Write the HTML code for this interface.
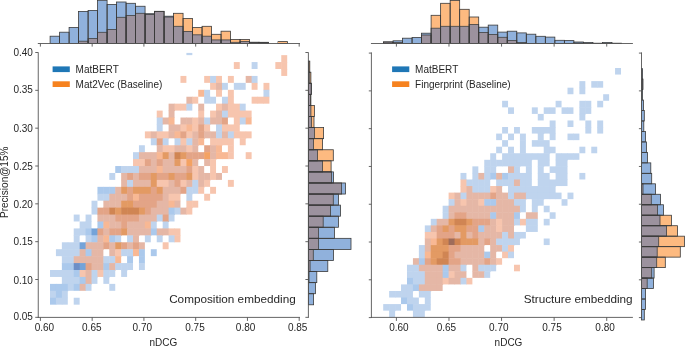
<!DOCTYPE html>
<html><head><meta charset="utf-8"><style>
html,body{margin:0;padding:0;background:#fff;}
body{width:685px;height:346px;overflow:hidden;}
svg{display:block;font-family:"Liberation Sans", sans-serif;will-change:transform;}
</style></head><body>
<svg width="685" height="346" viewBox="0 0 685 346" font-family='"Liberation Sans", sans-serif'>
<rect width="685" height="346" fill="#ffffff"/>
<rect x="186.39" y="52.9" width="5.93" height="2.24" fill="#bfd4ee"/>
<rect x="281.27" y="55.14" width="5.93" height="7.43" fill="#f7c5ae"/>
<rect x="233.83" y="62.07" width="5.93" height="6.93" fill="#f7c5ae"/>
<rect x="251.62" y="62.07" width="5.93" height="6.93" fill="#bfd4ee"/>
<rect x="275.34" y="62.07" width="6.43" height="6.93" fill="#f7c5ae"/>
<rect x="281.27" y="62.07" width="5.93" height="7.43" fill="#f7c5ae"/>
<rect x="281.27" y="69" width="5.93" height="6.93" fill="#f7c5ae"/>
<rect x="180.46" y="75.93" width="5.93" height="6.93" fill="#f7c5ae"/>
<rect x="204.18" y="75.93" width="6.43" height="6.93" fill="#f7c5ae"/>
<rect x="210.11" y="75.93" width="6.43" height="7.43" fill="#bfd4ee"/>
<rect x="216.04" y="75.93" width="5.93" height="7.43" fill="#f7c5ae"/>
<rect x="227.9" y="75.93" width="5.93" height="6.93" fill="#f7c5ae"/>
<rect x="245.69" y="75.93" width="6.43" height="6.93" fill="#e5b7a6"/>
<rect x="251.62" y="75.93" width="5.93" height="7.43" fill="#bfd4ee"/>
<rect x="210.11" y="82.87" width="6.43" height="6.93" fill="#f7c5ae"/>
<rect x="216.04" y="82.87" width="6.43" height="7.43" fill="#e5b7a6"/>
<rect x="221.97" y="82.87" width="5.93" height="6.93" fill="#bfd4ee"/>
<rect x="233.83" y="82.87" width="6.43" height="6.93" fill="#bfd4ee"/>
<rect x="239.76" y="82.87" width="5.93" height="6.93" fill="#bfd4ee"/>
<rect x="251.62" y="82.87" width="5.93" height="6.93" fill="#f7c5ae"/>
<rect x="263.48" y="82.87" width="5.93" height="7.43" fill="#f7c5ae"/>
<rect x="198.25" y="89.8" width="6.43" height="6.93" fill="#f8b894"/>
<rect x="204.18" y="89.8" width="5.93" height="7.43" fill="#bfd4ee"/>
<rect x="216.04" y="89.8" width="5.93" height="6.93" fill="#f7c5ae"/>
<rect x="227.9" y="89.8" width="5.93" height="7.43" fill="#f7c5ae"/>
<rect x="263.48" y="89.8" width="5.93" height="7.43" fill="#bfd4ee"/>
<rect x="186.39" y="96.73" width="6.43" height="7.43" fill="#e5b7a6"/>
<rect x="192.32" y="96.73" width="5.93" height="6.93" fill="#f7c5ae"/>
<rect x="204.18" y="96.73" width="6.43" height="6.93" fill="#bfd4ee"/>
<rect x="210.11" y="96.73" width="5.93" height="6.93" fill="#bfd4ee"/>
<rect x="221.97" y="96.73" width="6.43" height="7.43" fill="#bfd4ee"/>
<rect x="227.9" y="96.73" width="5.93" height="7.43" fill="#f7c5ae"/>
<rect x="251.62" y="96.73" width="6.43" height="6.93" fill="#f7c5ae"/>
<rect x="257.55" y="96.73" width="6.43" height="6.93" fill="#f7c5ae"/>
<rect x="263.48" y="96.73" width="5.93" height="6.93" fill="#f7c5ae"/>
<rect x="168.6" y="103.66" width="6.43" height="7.43" fill="#e5b7a6"/>
<rect x="174.53" y="103.66" width="6.43" height="6.93" fill="#f7c5ae"/>
<rect x="180.46" y="103.66" width="6.43" height="6.93" fill="#f7c5ae"/>
<rect x="186.39" y="103.66" width="5.93" height="6.93" fill="#bfd4ee"/>
<rect x="198.25" y="103.66" width="5.93" height="7.43" fill="#e5b7a6"/>
<rect x="216.04" y="103.66" width="6.43" height="7.43" fill="#f7c5ae"/>
<rect x="221.97" y="103.66" width="6.43" height="7.43" fill="#e5b7a6"/>
<rect x="227.9" y="103.66" width="6.43" height="7.43" fill="#f7c5ae"/>
<rect x="233.83" y="103.66" width="6.43" height="7.43" fill="#f7c5ae"/>
<rect x="239.76" y="103.66" width="5.93" height="7.43" fill="#bfd4ee"/>
<rect x="156.74" y="110.59" width="5.93" height="7.43" fill="#f7c5ae"/>
<rect x="168.6" y="110.59" width="5.93" height="7.43" fill="#e5b7a6"/>
<rect x="198.25" y="110.59" width="5.93" height="7.43" fill="#f7c5ae"/>
<rect x="210.11" y="110.59" width="6.43" height="7.43" fill="#f7c5ae"/>
<rect x="216.04" y="110.59" width="6.43" height="7.43" fill="#e5b7a6"/>
<rect x="221.97" y="110.59" width="6.43" height="7.43" fill="#bfd4ee"/>
<rect x="227.9" y="110.59" width="6.43" height="6.93" fill="#f7c5ae"/>
<rect x="233.83" y="110.59" width="6.43" height="7.43" fill="#f7c5ae"/>
<rect x="239.76" y="110.59" width="6.43" height="7.43" fill="#f7c5ae"/>
<rect x="245.69" y="110.59" width="5.93" height="7.43" fill="#f7c5ae"/>
<rect x="156.74" y="117.52" width="6.43" height="7.43" fill="#bfd4ee"/>
<rect x="162.67" y="117.52" width="6.43" height="6.93" fill="#e5b7a6"/>
<rect x="168.6" y="117.52" width="5.93" height="7.43" fill="#f8b894"/>
<rect x="180.46" y="117.52" width="6.43" height="7.43" fill="#e5b7a6"/>
<rect x="186.39" y="117.52" width="6.43" height="7.43" fill="#e5b7a6"/>
<rect x="192.32" y="117.52" width="6.43" height="7.43" fill="#f7c5ae"/>
<rect x="198.25" y="117.52" width="6.43" height="7.43" fill="#e5b7a6"/>
<rect x="204.18" y="117.52" width="6.43" height="7.43" fill="#bfd4ee"/>
<rect x="210.11" y="117.52" width="6.43" height="6.93" fill="#e5b7a6"/>
<rect x="216.04" y="117.52" width="6.43" height="7.43" fill="#e5b7a6"/>
<rect x="221.97" y="117.52" width="5.93" height="7.43" fill="#e3a487"/>
<rect x="233.83" y="117.52" width="6.43" height="7.43" fill="#f7c5ae"/>
<rect x="239.76" y="117.52" width="6.43" height="6.93" fill="#bfd4ee"/>
<rect x="245.69" y="117.52" width="5.93" height="6.93" fill="#f8b894"/>
<rect x="156.74" y="124.45" width="5.93" height="7.43" fill="#bfd4ee"/>
<rect x="168.6" y="124.45" width="6.43" height="7.43" fill="#e5b7a6"/>
<rect x="174.53" y="124.45" width="6.43" height="7.43" fill="#e5b7a6"/>
<rect x="180.46" y="124.45" width="6.43" height="7.43" fill="#f7c5ae"/>
<rect x="186.39" y="124.45" width="6.43" height="7.43" fill="#f8b894"/>
<rect x="192.32" y="124.45" width="6.43" height="7.43" fill="#f7c5ae"/>
<rect x="198.25" y="124.45" width="6.43" height="7.43" fill="#e3a487"/>
<rect x="204.18" y="124.45" width="5.93" height="7.43" fill="#f7c5ae"/>
<rect x="216.04" y="124.45" width="6.43" height="7.43" fill="#bfd4ee"/>
<rect x="221.97" y="124.45" width="6.43" height="7.43" fill="#f7c5ae"/>
<rect x="227.9" y="124.45" width="6.43" height="7.43" fill="#f7c5ae"/>
<rect x="233.83" y="124.45" width="5.93" height="7.43" fill="#f7c5ae"/>
<rect x="144.88" y="131.39" width="6.43" height="6.93" fill="#f7c5ae"/>
<rect x="150.81" y="131.39" width="6.43" height="7.43" fill="#e5b7a6"/>
<rect x="156.74" y="131.39" width="6.43" height="7.43" fill="#f7c5ae"/>
<rect x="162.67" y="131.39" width="6.43" height="7.43" fill="#f7c5ae"/>
<rect x="168.6" y="131.39" width="6.43" height="6.93" fill="#e5b7a6"/>
<rect x="174.53" y="131.39" width="6.43" height="7.43" fill="#f8b894"/>
<rect x="180.46" y="131.39" width="6.43" height="7.43" fill="#e3a487"/>
<rect x="186.39" y="131.39" width="6.43" height="7.43" fill="#f7c5ae"/>
<rect x="192.32" y="131.39" width="6.43" height="7.43" fill="#e5b7a6"/>
<rect x="198.25" y="131.39" width="6.43" height="7.43" fill="#e3a487"/>
<rect x="204.18" y="131.39" width="6.43" height="6.93" fill="#e5b7a6"/>
<rect x="210.11" y="131.39" width="6.43" height="7.43" fill="#e5b7a6"/>
<rect x="216.04" y="131.39" width="6.43" height="7.43" fill="#bfd4ee"/>
<rect x="221.97" y="131.39" width="6.43" height="7.43" fill="#e5b7a6"/>
<rect x="227.9" y="131.39" width="6.43" height="7.43" fill="#bfd4ee"/>
<rect x="233.83" y="131.39" width="6.43" height="6.93" fill="#f7c5ae"/>
<rect x="239.76" y="131.39" width="6.43" height="7.43" fill="#f7c5ae"/>
<rect x="245.69" y="131.39" width="5.93" height="6.93" fill="#f7c5ae"/>
<rect x="150.81" y="138.32" width="6.43" height="6.93" fill="#bfd4ee"/>
<rect x="156.74" y="138.32" width="6.43" height="7.43" fill="#e3a487"/>
<rect x="162.67" y="138.32" width="5.93" height="7.43" fill="#bfd4ee"/>
<rect x="174.53" y="138.32" width="6.43" height="7.43" fill="#bfd4ee"/>
<rect x="180.46" y="138.32" width="6.43" height="7.43" fill="#f7c5ae"/>
<rect x="186.39" y="138.32" width="6.43" height="7.43" fill="#bfd4ee"/>
<rect x="192.32" y="138.32" width="6.43" height="7.43" fill="#e5b7a6"/>
<rect x="198.25" y="138.32" width="5.93" height="6.93" fill="#f8b894"/>
<rect x="210.11" y="138.32" width="6.43" height="7.43" fill="#f7c5ae"/>
<rect x="216.04" y="138.32" width="6.43" height="7.43" fill="#f7c5ae"/>
<rect x="221.97" y="138.32" width="6.43" height="6.93" fill="#f7c5ae"/>
<rect x="227.9" y="138.32" width="5.93" height="7.43" fill="#f7c5ae"/>
<rect x="239.76" y="138.32" width="5.93" height="6.93" fill="#f7c5ae"/>
<rect x="138.95" y="145.25" width="5.93" height="7.43" fill="#bfd4ee"/>
<rect x="156.74" y="145.25" width="6.43" height="7.43" fill="#e5b7a6"/>
<rect x="162.67" y="145.25" width="6.43" height="7.43" fill="#f7c5ae"/>
<rect x="168.6" y="145.25" width="6.43" height="7.43" fill="#f7c5ae"/>
<rect x="174.53" y="145.25" width="6.43" height="7.43" fill="#e5b7a6"/>
<rect x="180.46" y="145.25" width="6.43" height="7.43" fill="#e5b7a6"/>
<rect x="186.39" y="145.25" width="6.43" height="7.43" fill="#f7c5ae"/>
<rect x="192.32" y="145.25" width="5.93" height="7.43" fill="#e5b7a6"/>
<rect x="204.18" y="145.25" width="6.43" height="7.43" fill="#e3a487"/>
<rect x="210.11" y="145.25" width="6.43" height="7.43" fill="#e5b7a6"/>
<rect x="216.04" y="145.25" width="5.93" height="7.43" fill="#f8b894"/>
<rect x="227.9" y="145.25" width="5.93" height="7.43" fill="#f7c5ae"/>
<rect x="133.02" y="152.18" width="6.43" height="7.43" fill="#bfd4ee"/>
<rect x="138.95" y="152.18" width="6.43" height="7.43" fill="#e5b7a6"/>
<rect x="144.88" y="152.18" width="6.43" height="7.43" fill="#e5b7a6"/>
<rect x="150.81" y="152.18" width="6.43" height="7.43" fill="#e5b7a6"/>
<rect x="156.74" y="152.18" width="6.43" height="7.43" fill="#f8b894"/>
<rect x="162.67" y="152.18" width="6.43" height="7.43" fill="#e39a63"/>
<rect x="168.6" y="152.18" width="6.43" height="7.43" fill="#e5b7a6"/>
<rect x="174.53" y="152.18" width="6.43" height="7.43" fill="#d08553"/>
<rect x="180.46" y="152.18" width="6.43" height="7.43" fill="#e39a63"/>
<rect x="186.39" y="152.18" width="6.43" height="7.43" fill="#e3a487"/>
<rect x="192.32" y="152.18" width="6.43" height="7.43" fill="#e3a487"/>
<rect x="198.25" y="152.18" width="6.43" height="6.93" fill="#e3a487"/>
<rect x="204.18" y="152.18" width="6.43" height="7.43" fill="#f4a263"/>
<rect x="210.11" y="152.18" width="6.43" height="7.43" fill="#e5b7a6"/>
<rect x="216.04" y="152.18" width="6.43" height="6.93" fill="#f8b894"/>
<rect x="221.97" y="152.18" width="6.43" height="6.93" fill="#f8b894"/>
<rect x="227.9" y="152.18" width="5.93" height="6.93" fill="#f7c5ae"/>
<rect x="245.69" y="152.18" width="5.93" height="6.93" fill="#f7c5ae"/>
<rect x="133.02" y="159.11" width="6.43" height="7.43" fill="#f7c5ae"/>
<rect x="138.95" y="159.11" width="6.43" height="7.43" fill="#f7c5ae"/>
<rect x="144.88" y="159.11" width="6.43" height="7.43" fill="#e3a487"/>
<rect x="150.81" y="159.11" width="6.43" height="7.43" fill="#e5b7a6"/>
<rect x="156.74" y="159.11" width="6.43" height="7.43" fill="#e3a487"/>
<rect x="162.67" y="159.11" width="6.43" height="7.43" fill="#e5b7a6"/>
<rect x="168.6" y="159.11" width="6.43" height="7.43" fill="#e5b7a6"/>
<rect x="174.53" y="159.11" width="6.43" height="7.43" fill="#e39a63"/>
<rect x="180.46" y="159.11" width="6.43" height="7.43" fill="#f7c5ae"/>
<rect x="186.39" y="159.11" width="6.43" height="7.43" fill="#f4a263"/>
<rect x="192.32" y="159.11" width="5.93" height="7.43" fill="#e5b7a6"/>
<rect x="204.18" y="159.11" width="6.43" height="6.93" fill="#e5b7a6"/>
<rect x="210.11" y="159.11" width="5.93" height="7.43" fill="#f7c5ae"/>
<rect x="115.23" y="166.04" width="6.43" height="6.93" fill="#abc9ec"/>
<rect x="121.16" y="166.04" width="6.43" height="7.43" fill="#bfd4ee"/>
<rect x="127.09" y="166.04" width="6.43" height="7.43" fill="#bfd4ee"/>
<rect x="133.02" y="166.04" width="6.43" height="7.43" fill="#bfd4ee"/>
<rect x="138.95" y="166.04" width="6.43" height="7.43" fill="#e5b7a6"/>
<rect x="144.88" y="166.04" width="6.43" height="7.43" fill="#e5b7a6"/>
<rect x="150.81" y="166.04" width="6.43" height="7.43" fill="#e5b7a6"/>
<rect x="156.74" y="166.04" width="6.43" height="7.43" fill="#f8b894"/>
<rect x="162.67" y="166.04" width="6.43" height="7.43" fill="#e5b7a6"/>
<rect x="168.6" y="166.04" width="6.43" height="7.43" fill="#e5b7a6"/>
<rect x="174.53" y="166.04" width="6.43" height="7.43" fill="#e5b7a6"/>
<rect x="180.46" y="166.04" width="6.43" height="7.43" fill="#e5b7a6"/>
<rect x="186.39" y="166.04" width="6.43" height="7.43" fill="#e3a487"/>
<rect x="192.32" y="166.04" width="6.43" height="7.43" fill="#f7c5ae"/>
<rect x="198.25" y="166.04" width="5.93" height="7.43" fill="#e5b7a6"/>
<rect x="210.11" y="166.04" width="5.93" height="7.43" fill="#f7c5ae"/>
<rect x="221.97" y="166.04" width="5.93" height="6.93" fill="#f7c5ae"/>
<rect x="109.3" y="172.97" width="5.93" height="6.93" fill="#bfd4ee"/>
<rect x="121.16" y="172.97" width="6.43" height="7.43" fill="#e5b7a6"/>
<rect x="127.09" y="172.97" width="6.43" height="7.43" fill="#e3a487"/>
<rect x="133.02" y="172.97" width="6.43" height="7.43" fill="#e5b7a6"/>
<rect x="138.95" y="172.97" width="6.43" height="7.43" fill="#e3a487"/>
<rect x="144.88" y="172.97" width="6.43" height="7.43" fill="#e3a487"/>
<rect x="150.81" y="172.97" width="6.43" height="7.43" fill="#e39a63"/>
<rect x="156.74" y="172.97" width="6.43" height="7.43" fill="#e3a487"/>
<rect x="162.67" y="172.97" width="6.43" height="7.43" fill="#e3a487"/>
<rect x="168.6" y="172.97" width="6.43" height="7.43" fill="#e39a63"/>
<rect x="174.53" y="172.97" width="6.43" height="7.43" fill="#e3a487"/>
<rect x="180.46" y="172.97" width="6.43" height="7.43" fill="#e3a487"/>
<rect x="186.39" y="172.97" width="6.43" height="7.43" fill="#e39a63"/>
<rect x="192.32" y="172.97" width="6.43" height="7.43" fill="#f7c5ae"/>
<rect x="198.25" y="172.97" width="6.43" height="7.43" fill="#e5b7a6"/>
<rect x="204.18" y="172.97" width="6.43" height="7.43" fill="#e5b7a6"/>
<rect x="210.11" y="172.97" width="6.43" height="6.93" fill="#f7c5ae"/>
<rect x="216.04" y="172.97" width="5.93" height="6.93" fill="#e5b7a6"/>
<rect x="121.16" y="179.91" width="6.43" height="7.43" fill="#e5b7a6"/>
<rect x="127.09" y="179.91" width="6.43" height="7.43" fill="#bfd4ee"/>
<rect x="133.02" y="179.91" width="6.43" height="7.43" fill="#e5b7a6"/>
<rect x="138.95" y="179.91" width="6.43" height="7.43" fill="#e5b7a6"/>
<rect x="144.88" y="179.91" width="6.43" height="7.43" fill="#e5b7a6"/>
<rect x="150.81" y="179.91" width="6.43" height="7.43" fill="#e39a63"/>
<rect x="156.74" y="179.91" width="6.43" height="7.43" fill="#f7c5ae"/>
<rect x="162.67" y="179.91" width="6.43" height="7.43" fill="#f7c5ae"/>
<rect x="168.6" y="179.91" width="6.43" height="7.43" fill="#e5b7a6"/>
<rect x="174.53" y="179.91" width="6.43" height="7.43" fill="#e3a487"/>
<rect x="180.46" y="179.91" width="6.43" height="7.43" fill="#f7c5ae"/>
<rect x="186.39" y="179.91" width="6.43" height="7.43" fill="#e5b7a6"/>
<rect x="192.32" y="179.91" width="6.43" height="7.43" fill="#bfd4ee"/>
<rect x="198.25" y="179.91" width="6.43" height="7.43" fill="#e5b7a6"/>
<rect x="204.18" y="179.91" width="5.93" height="6.93" fill="#f7c5ae"/>
<rect x="227.9" y="179.91" width="5.93" height="6.93" fill="#f7c5ae"/>
<rect x="97.44" y="186.84" width="6.43" height="7.43" fill="#abc9ec"/>
<rect x="103.37" y="186.84" width="6.43" height="7.43" fill="#abc9ec"/>
<rect x="109.3" y="186.84" width="6.43" height="7.43" fill="#abc9ec"/>
<rect x="115.23" y="186.84" width="6.43" height="7.43" fill="#e5b7a6"/>
<rect x="121.16" y="186.84" width="6.43" height="7.43" fill="#e39a63"/>
<rect x="127.09" y="186.84" width="6.43" height="7.43" fill="#e3a487"/>
<rect x="133.02" y="186.84" width="6.43" height="7.43" fill="#e39a63"/>
<rect x="138.95" y="186.84" width="6.43" height="7.43" fill="#e39a63"/>
<rect x="144.88" y="186.84" width="6.43" height="7.43" fill="#e39a63"/>
<rect x="150.81" y="186.84" width="6.43" height="7.43" fill="#e3a487"/>
<rect x="156.74" y="186.84" width="6.43" height="7.43" fill="#e39a63"/>
<rect x="162.67" y="186.84" width="6.43" height="7.43" fill="#e5b7a6"/>
<rect x="168.6" y="186.84" width="6.43" height="7.43" fill="#e5b7a6"/>
<rect x="174.53" y="186.84" width="6.43" height="7.43" fill="#e5b7a6"/>
<rect x="180.46" y="186.84" width="6.43" height="6.93" fill="#e3a487"/>
<rect x="186.39" y="186.84" width="6.43" height="7.43" fill="#bfd4ee"/>
<rect x="192.32" y="186.84" width="6.43" height="6.93" fill="#bfd4ee"/>
<rect x="198.25" y="186.84" width="5.93" height="6.93" fill="#f7c5ae"/>
<rect x="210.11" y="186.84" width="5.93" height="6.93" fill="#f7c5ae"/>
<rect x="97.44" y="193.77" width="6.43" height="6.93" fill="#bfd4ee"/>
<rect x="103.37" y="193.77" width="6.43" height="7.43" fill="#bfd4ee"/>
<rect x="109.3" y="193.77" width="6.43" height="7.43" fill="#e5b7a6"/>
<rect x="115.23" y="193.77" width="6.43" height="7.43" fill="#e5b7a6"/>
<rect x="121.16" y="193.77" width="6.43" height="7.43" fill="#e5b7a6"/>
<rect x="127.09" y="193.77" width="6.43" height="7.43" fill="#e3a487"/>
<rect x="133.02" y="193.77" width="6.43" height="7.43" fill="#f8b894"/>
<rect x="138.95" y="193.77" width="6.43" height="7.43" fill="#e3a487"/>
<rect x="144.88" y="193.77" width="6.43" height="7.43" fill="#e3a487"/>
<rect x="150.81" y="193.77" width="6.43" height="7.43" fill="#e3a487"/>
<rect x="156.74" y="193.77" width="6.43" height="7.43" fill="#e3a487"/>
<rect x="162.67" y="193.77" width="6.43" height="7.43" fill="#e5b7a6"/>
<rect x="168.6" y="193.77" width="6.43" height="7.43" fill="#f7c5ae"/>
<rect x="174.53" y="193.77" width="5.93" height="7.43" fill="#f7c5ae"/>
<rect x="186.39" y="193.77" width="5.93" height="7.43" fill="#bfd4ee"/>
<rect x="204.18" y="193.77" width="5.93" height="6.93" fill="#f7c5ae"/>
<rect x="91.51" y="200.7" width="5.93" height="7.43" fill="#bfd4ee"/>
<rect x="103.37" y="200.7" width="6.43" height="7.43" fill="#e5b7a6"/>
<rect x="109.3" y="200.7" width="6.43" height="7.43" fill="#e5b7a6"/>
<rect x="115.23" y="200.7" width="6.43" height="7.43" fill="#e5b7a6"/>
<rect x="121.16" y="200.7" width="6.43" height="7.43" fill="#e39a63"/>
<rect x="127.09" y="200.7" width="6.43" height="7.43" fill="#e39a63"/>
<rect x="133.02" y="200.7" width="6.43" height="7.43" fill="#e3a487"/>
<rect x="138.95" y="200.7" width="6.43" height="7.43" fill="#e3a487"/>
<rect x="144.88" y="200.7" width="6.43" height="7.43" fill="#e3a487"/>
<rect x="150.81" y="200.7" width="6.43" height="7.43" fill="#e3a487"/>
<rect x="156.74" y="200.7" width="6.43" height="7.43" fill="#e5b7a6"/>
<rect x="162.67" y="200.7" width="6.43" height="7.43" fill="#e5b7a6"/>
<rect x="168.6" y="200.7" width="6.43" height="7.43" fill="#f8b894"/>
<rect x="174.53" y="200.7" width="5.93" height="7.43" fill="#e5b7a6"/>
<rect x="186.39" y="200.7" width="6.43" height="7.43" fill="#f7c5ae"/>
<rect x="192.32" y="200.7" width="5.93" height="6.93" fill="#f7c5ae"/>
<rect x="91.51" y="207.63" width="6.43" height="6.93" fill="#bfd4ee"/>
<rect x="97.44" y="207.63" width="6.43" height="7.43" fill="#e3a487"/>
<rect x="103.37" y="207.63" width="6.43" height="7.43" fill="#e3a487"/>
<rect x="109.3" y="207.63" width="6.43" height="7.43" fill="#d08553"/>
<rect x="115.23" y="207.63" width="6.43" height="7.43" fill="#e39a63"/>
<rect x="121.16" y="207.63" width="6.43" height="7.43" fill="#d08553"/>
<rect x="127.09" y="207.63" width="6.43" height="7.43" fill="#d08553"/>
<rect x="133.02" y="207.63" width="6.43" height="7.43" fill="#d08553"/>
<rect x="138.95" y="207.63" width="6.43" height="7.43" fill="#e39a63"/>
<rect x="144.88" y="207.63" width="6.43" height="7.43" fill="#e3a487"/>
<rect x="150.81" y="207.63" width="6.43" height="7.43" fill="#e5b7a6"/>
<rect x="156.74" y="207.63" width="6.43" height="7.43" fill="#e5b7a6"/>
<rect x="162.67" y="207.63" width="6.43" height="7.43" fill="#e5b7a6"/>
<rect x="168.6" y="207.63" width="6.43" height="7.43" fill="#abc9ec"/>
<rect x="174.53" y="207.63" width="6.43" height="6.93" fill="#bfd4ee"/>
<rect x="180.46" y="207.63" width="6.43" height="6.93" fill="#e5b7a6"/>
<rect x="186.39" y="207.63" width="5.93" height="6.93" fill="#f7c5ae"/>
<rect x="73.72" y="214.56" width="5.93" height="6.93" fill="#bfd4ee"/>
<rect x="85.58" y="214.56" width="5.93" height="7.43" fill="#bfd4ee"/>
<rect x="97.44" y="214.56" width="6.43" height="7.43" fill="#e5b7a6"/>
<rect x="103.37" y="214.56" width="6.43" height="7.43" fill="#e5b7a6"/>
<rect x="109.3" y="214.56" width="6.43" height="7.43" fill="#e5b7a6"/>
<rect x="115.23" y="214.56" width="6.43" height="7.43" fill="#e3a487"/>
<rect x="121.16" y="214.56" width="6.43" height="7.43" fill="#e3a487"/>
<rect x="127.09" y="214.56" width="6.43" height="7.43" fill="#e3a487"/>
<rect x="133.02" y="214.56" width="6.43" height="7.43" fill="#e3a487"/>
<rect x="138.95" y="214.56" width="6.43" height="7.43" fill="#e5b7a6"/>
<rect x="144.88" y="214.56" width="6.43" height="7.43" fill="#e5b7a6"/>
<rect x="150.81" y="214.56" width="6.43" height="7.43" fill="#e5b7a6"/>
<rect x="156.74" y="214.56" width="6.43" height="6.93" fill="#bfd4ee"/>
<rect x="162.67" y="214.56" width="6.43" height="7.43" fill="#e3a487"/>
<rect x="168.6" y="214.56" width="5.93" height="6.93" fill="#bfd4ee"/>
<rect x="79.65" y="221.49" width="6.43" height="7.43" fill="#bfd4ee"/>
<rect x="85.58" y="221.49" width="5.93" height="7.43" fill="#bfd4ee"/>
<rect x="97.44" y="221.49" width="6.43" height="7.43" fill="#abc9ec"/>
<rect x="103.37" y="221.49" width="6.43" height="7.43" fill="#f8b894"/>
<rect x="109.3" y="221.49" width="6.43" height="7.43" fill="#e5b7a6"/>
<rect x="115.23" y="221.49" width="6.43" height="7.43" fill="#e5b7a6"/>
<rect x="121.16" y="221.49" width="6.43" height="7.43" fill="#e3a487"/>
<rect x="127.09" y="221.49" width="6.43" height="7.43" fill="#e5b7a6"/>
<rect x="133.02" y="221.49" width="6.43" height="7.43" fill="#e5b7a6"/>
<rect x="138.95" y="221.49" width="6.43" height="7.43" fill="#e5b7a6"/>
<rect x="144.88" y="221.49" width="6.43" height="7.43" fill="#f8b894"/>
<rect x="150.81" y="221.49" width="5.93" height="7.43" fill="#bfd4ee"/>
<rect x="162.67" y="221.49" width="5.93" height="7.43" fill="#bfd4ee"/>
<rect x="73.72" y="228.43" width="6.43" height="7.43" fill="#bfd4ee"/>
<rect x="79.65" y="228.43" width="6.43" height="6.93" fill="#bfd4ee"/>
<rect x="85.58" y="228.43" width="6.43" height="7.43" fill="#abc9ec"/>
<rect x="91.51" y="228.43" width="6.43" height="7.43" fill="#74a3d8"/>
<rect x="97.44" y="228.43" width="6.43" height="7.43" fill="#e3a487"/>
<rect x="103.37" y="228.43" width="6.43" height="7.43" fill="#e5b7a6"/>
<rect x="109.3" y="228.43" width="6.43" height="7.43" fill="#e3a487"/>
<rect x="115.23" y="228.43" width="6.43" height="7.43" fill="#e3a487"/>
<rect x="121.16" y="228.43" width="6.43" height="6.93" fill="#e39a63"/>
<rect x="127.09" y="228.43" width="6.43" height="7.43" fill="#e5b7a6"/>
<rect x="133.02" y="228.43" width="6.43" height="7.43" fill="#e5b7a6"/>
<rect x="138.95" y="228.43" width="6.43" height="6.93" fill="#e5b7a6"/>
<rect x="144.88" y="228.43" width="6.43" height="7.43" fill="#e5b7a6"/>
<rect x="150.81" y="228.43" width="6.43" height="6.93" fill="#abc9ec"/>
<rect x="156.74" y="228.43" width="6.43" height="7.43" fill="#e5b7a6"/>
<rect x="162.67" y="228.43" width="6.43" height="6.93" fill="#e5b7a6"/>
<rect x="168.6" y="228.43" width="6.43" height="7.43" fill="#f7c5ae"/>
<rect x="174.53" y="228.43" width="5.93" height="7.43" fill="#f7c5ae"/>
<rect x="73.72" y="235.36" width="5.93" height="7.43" fill="#bfd4ee"/>
<rect x="85.58" y="235.36" width="6.43" height="7.43" fill="#bfd4ee"/>
<rect x="91.51" y="235.36" width="6.43" height="7.43" fill="#abc9ec"/>
<rect x="97.44" y="235.36" width="6.43" height="7.43" fill="#e5b7a6"/>
<rect x="103.37" y="235.36" width="6.43" height="7.43" fill="#f8b894"/>
<rect x="109.3" y="235.36" width="6.43" height="7.43" fill="#abc9ec"/>
<rect x="115.23" y="235.36" width="5.93" height="7.43" fill="#bfd4ee"/>
<rect x="127.09" y="235.36" width="6.43" height="7.43" fill="#bfd4ee"/>
<rect x="133.02" y="235.36" width="5.93" height="7.43" fill="#e5b7a6"/>
<rect x="144.88" y="235.36" width="5.93" height="6.93" fill="#bfd4ee"/>
<rect x="156.74" y="235.36" width="5.93" height="6.93" fill="#bfd4ee"/>
<rect x="168.6" y="235.36" width="6.43" height="6.93" fill="#bfd4ee"/>
<rect x="174.53" y="235.36" width="5.93" height="6.93" fill="#f7c5ae"/>
<rect x="61.86" y="242.29" width="6.43" height="7.43" fill="#bfd4ee"/>
<rect x="67.79" y="242.29" width="6.43" height="7.43" fill="#bfd4ee"/>
<rect x="73.72" y="242.29" width="6.43" height="7.43" fill="#bfd4ee"/>
<rect x="79.65" y="242.29" width="6.43" height="7.43" fill="#74a3d8"/>
<rect x="85.58" y="242.29" width="6.43" height="7.43" fill="#e5b7a6"/>
<rect x="91.51" y="242.29" width="6.43" height="7.43" fill="#e5b7a6"/>
<rect x="97.44" y="242.29" width="6.43" height="7.43" fill="#e5b7a6"/>
<rect x="103.37" y="242.29" width="6.43" height="6.93" fill="#e3a487"/>
<rect x="109.3" y="242.29" width="6.43" height="7.43" fill="#e5b7a6"/>
<rect x="115.23" y="242.29" width="6.43" height="7.43" fill="#e39a63"/>
<rect x="121.16" y="242.29" width="6.43" height="7.43" fill="#e3a487"/>
<rect x="127.09" y="242.29" width="6.43" height="7.43" fill="#e5b7a6"/>
<rect x="133.02" y="242.29" width="6.43" height="7.43" fill="#e3a487"/>
<rect x="138.95" y="242.29" width="5.93" height="7.43" fill="#e5b7a6"/>
<rect x="162.67" y="242.29" width="5.93" height="6.93" fill="#f7c5ae"/>
<rect x="55.93" y="249.22" width="6.43" height="6.93" fill="#bfd4ee"/>
<rect x="61.86" y="249.22" width="6.43" height="7.43" fill="#bfd4ee"/>
<rect x="67.79" y="249.22" width="6.43" height="7.43" fill="#bfd4ee"/>
<rect x="73.72" y="249.22" width="6.43" height="7.43" fill="#bfd4ee"/>
<rect x="79.65" y="249.22" width="6.43" height="7.43" fill="#e5b7a6"/>
<rect x="85.58" y="249.22" width="6.43" height="7.43" fill="#abc9ec"/>
<rect x="91.51" y="249.22" width="6.43" height="7.43" fill="#e5b7a6"/>
<rect x="97.44" y="249.22" width="5.93" height="7.43" fill="#e5b7a6"/>
<rect x="109.3" y="249.22" width="6.43" height="7.43" fill="#e5b7a6"/>
<rect x="115.23" y="249.22" width="6.43" height="7.43" fill="#f7c5ae"/>
<rect x="121.16" y="249.22" width="6.43" height="6.93" fill="#bfd4ee"/>
<rect x="127.09" y="249.22" width="6.43" height="7.43" fill="#bfd4ee"/>
<rect x="133.02" y="249.22" width="6.43" height="6.93" fill="#f8b894"/>
<rect x="138.95" y="249.22" width="5.93" height="7.43" fill="#abc9ec"/>
<rect x="150.81" y="249.22" width="5.93" height="6.93" fill="#abc9ec"/>
<rect x="61.86" y="256.15" width="6.43" height="7.43" fill="#bfd4ee"/>
<rect x="67.79" y="256.15" width="6.43" height="7.43" fill="#bfd4ee"/>
<rect x="73.72" y="256.15" width="6.43" height="7.43" fill="#e5b7a6"/>
<rect x="79.65" y="256.15" width="6.43" height="7.43" fill="#e5b7a6"/>
<rect x="85.58" y="256.15" width="6.43" height="7.43" fill="#e5b7a6"/>
<rect x="91.51" y="256.15" width="6.43" height="7.43" fill="#e5b7a6"/>
<rect x="97.44" y="256.15" width="6.43" height="7.43" fill="#e5b7a6"/>
<rect x="103.37" y="256.15" width="6.43" height="7.43" fill="#bfd4ee"/>
<rect x="109.3" y="256.15" width="6.43" height="7.43" fill="#bfd4ee"/>
<rect x="115.23" y="256.15" width="5.93" height="7.43" fill="#f8b894"/>
<rect x="127.09" y="256.15" width="5.93" height="7.43" fill="#abc9ec"/>
<rect x="138.95" y="256.15" width="5.93" height="7.43" fill="#abc9ec"/>
<rect x="61.86" y="263.08" width="6.43" height="7.43" fill="#abc9ec"/>
<rect x="67.79" y="263.08" width="6.43" height="7.43" fill="#abc9ec"/>
<rect x="73.72" y="263.08" width="6.43" height="7.43" fill="#6d8ec6"/>
<rect x="79.65" y="263.08" width="6.43" height="7.43" fill="#74a3d8"/>
<rect x="85.58" y="263.08" width="6.43" height="7.43" fill="#e3a487"/>
<rect x="91.51" y="263.08" width="6.43" height="7.43" fill="#e5b7a6"/>
<rect x="97.44" y="263.08" width="6.43" height="7.43" fill="#e5b7a6"/>
<rect x="103.37" y="263.08" width="6.43" height="7.43" fill="#abc9ec"/>
<rect x="109.3" y="263.08" width="6.43" height="7.43" fill="#e5b7a6"/>
<rect x="115.23" y="263.08" width="6.43" height="6.93" fill="#bfd4ee"/>
<rect x="121.16" y="263.08" width="6.43" height="7.43" fill="#bfd4ee"/>
<rect x="127.09" y="263.08" width="5.93" height="6.93" fill="#bfd4ee"/>
<rect x="138.95" y="263.08" width="5.93" height="6.93" fill="#bfd4ee"/>
<rect x="50" y="270.01" width="6.43" height="6.93" fill="#bfd4ee"/>
<rect x="55.93" y="270.01" width="6.43" height="6.93" fill="#bfd4ee"/>
<rect x="61.86" y="270.01" width="6.43" height="7.43" fill="#bfd4ee"/>
<rect x="67.79" y="270.01" width="6.43" height="7.43" fill="#bfd4ee"/>
<rect x="73.72" y="270.01" width="6.43" height="7.43" fill="#abc9ec"/>
<rect x="79.65" y="270.01" width="6.43" height="7.43" fill="#f7c5ae"/>
<rect x="85.58" y="270.01" width="6.43" height="7.43" fill="#e5b7a6"/>
<rect x="91.51" y="270.01" width="6.43" height="7.43" fill="#bfd4ee"/>
<rect x="97.44" y="270.01" width="6.43" height="6.93" fill="#f7c5ae"/>
<rect x="103.37" y="270.01" width="6.43" height="7.43" fill="#bfd4ee"/>
<rect x="109.3" y="270.01" width="5.93" height="6.93" fill="#bfd4ee"/>
<rect x="121.16" y="270.01" width="5.93" height="6.93" fill="#bfd4ee"/>
<rect x="61.86" y="276.94" width="6.43" height="7.43" fill="#bfd4ee"/>
<rect x="67.79" y="276.94" width="6.43" height="7.43" fill="#bfd4ee"/>
<rect x="73.72" y="276.94" width="6.43" height="7.43" fill="#bfd4ee"/>
<rect x="79.65" y="276.94" width="6.43" height="7.43" fill="#abc9ec"/>
<rect x="85.58" y="276.94" width="6.43" height="7.43" fill="#e5b7a6"/>
<rect x="91.51" y="276.94" width="5.93" height="6.93" fill="#bfd4ee"/>
<rect x="103.37" y="276.94" width="5.93" height="6.93" fill="#bfd4ee"/>
<rect x="50" y="283.88" width="6.43" height="7.43" fill="#abc9ec"/>
<rect x="55.93" y="283.88" width="6.43" height="7.43" fill="#abc9ec"/>
<rect x="61.86" y="283.88" width="6.43" height="7.43" fill="#abc9ec"/>
<rect x="67.79" y="283.88" width="6.43" height="6.93" fill="#bfd4ee"/>
<rect x="73.72" y="283.88" width="6.43" height="6.93" fill="#abc9ec"/>
<rect x="79.65" y="283.88" width="6.43" height="6.93" fill="#e5b7a6"/>
<rect x="85.58" y="283.88" width="5.93" height="6.93" fill="#bfd4ee"/>
<rect x="109.3" y="283.88" width="5.93" height="6.93" fill="#bfd4ee"/>
<rect x="50" y="290.81" width="6.43" height="7.43" fill="#bfd4ee"/>
<rect x="55.93" y="290.81" width="6.43" height="7.43" fill="#abc9ec"/>
<rect x="61.86" y="290.81" width="5.93" height="7.43" fill="#bfd4ee"/>
<rect x="50" y="297.74" width="6.43" height="6.93" fill="#abc9ec"/>
<rect x="55.93" y="297.74" width="6.43" height="6.93" fill="#bfd4ee"/>
<rect x="61.86" y="297.74" width="5.93" height="6.93" fill="#bfd4ee"/>
<rect x="73.72" y="297.74" width="5.93" height="6.93" fill="#bfd4ee"/>
<line x1="38.25" y1="52.4" x2="38.25" y2="317.85" stroke="#555555" stroke-width="0.9"/>
<line x1="37.8" y1="317.4" x2="300" y2="317.4" stroke="#555555" stroke-width="0.9"/>
<line x1="35.25" y1="317.35" x2="38.25" y2="317.35" stroke="#555555" stroke-width="0.9"/>
<text x="32.95" y="319.7" font-size="10" text-anchor="end" fill="#262626">0.05</text>
<line x1="35.25" y1="279.51" x2="38.25" y2="279.51" stroke="#555555" stroke-width="0.9"/>
<text x="32.95" y="283.5" font-size="10" text-anchor="end" fill="#262626">0.10</text>
<line x1="35.25" y1="241.68" x2="38.25" y2="241.68" stroke="#555555" stroke-width="0.9"/>
<text x="32.95" y="245.15" font-size="10" text-anchor="end" fill="#262626">0.15</text>
<line x1="35.25" y1="203.84" x2="38.25" y2="203.84" stroke="#555555" stroke-width="0.9"/>
<text x="32.95" y="208.2" font-size="10" text-anchor="end" fill="#262626">0.20</text>
<line x1="35.25" y1="166.01" x2="38.25" y2="166.01" stroke="#555555" stroke-width="0.9"/>
<text x="32.95" y="169.7" font-size="10" text-anchor="end" fill="#262626">0.25</text>
<line x1="35.25" y1="128.17" x2="38.25" y2="128.17" stroke="#555555" stroke-width="0.9"/>
<text x="32.95" y="131.7" font-size="10" text-anchor="end" fill="#262626">0.30</text>
<line x1="35.25" y1="90.33" x2="38.25" y2="90.33" stroke="#555555" stroke-width="0.9"/>
<text x="32.95" y="92.55" font-size="10" text-anchor="end" fill="#262626">0.35</text>
<line x1="35.25" y1="52.5" x2="38.25" y2="52.5" stroke="#555555" stroke-width="0.9"/>
<text x="32.95" y="55.95" font-size="10" text-anchor="end" fill="#262626">0.40</text>
<line x1="40.4" y1="317.4" x2="40.4" y2="320.9" stroke="#555555" stroke-width="0.9"/>
<text x="44.4" y="330.5" font-size="10" text-anchor="middle" fill="#262626">0.60</text>
<line x1="92.16" y1="317.4" x2="92.16" y2="320.9" stroke="#555555" stroke-width="0.9"/>
<text x="91.8" y="330.5" font-size="10" text-anchor="middle" fill="#262626">0.65</text>
<line x1="143.92" y1="317.4" x2="143.92" y2="320.9" stroke="#555555" stroke-width="0.9"/>
<text x="142.3" y="330.5" font-size="10" text-anchor="middle" fill="#262626">0.70</text>
<line x1="195.68" y1="317.4" x2="195.68" y2="320.9" stroke="#555555" stroke-width="0.9"/>
<text x="195" y="330.5" font-size="10" text-anchor="middle" fill="#262626">0.75</text>
<line x1="247.44" y1="317.4" x2="247.44" y2="320.9" stroke="#555555" stroke-width="0.9"/>
<text x="245.6" y="330.5" font-size="10" text-anchor="middle" fill="#262626">0.80</text>
<line x1="299.2" y1="317.4" x2="299.2" y2="320.9" stroke="#555555" stroke-width="0.9"/>
<text x="297.7" y="330.5" font-size="10" text-anchor="middle" fill="#262626">0.85</text>
<rect x="50.1" y="36.2" width="9.5" height="7.3" fill="#90b1dc"/>
<rect x="59.6" y="32.2" width="9.5" height="11.3" fill="#90b1dc"/>
<rect x="69.09" y="27.4" width="9.5" height="16.1" fill="#90b1dc"/>
<rect x="78.59" y="41.2" width="9.5" height="2.3" fill="#9c929e"/>
<rect x="78.59" y="11.4" width="9.5" height="29.8" fill="#90b1dc"/>
<rect x="88.09" y="38.6" width="9.5" height="4.9" fill="#9c929e"/>
<rect x="88.09" y="10.4" width="9.5" height="28.2" fill="#90b1dc"/>
<rect x="97.59" y="32.3" width="9.5" height="11.2" fill="#9c929e"/>
<rect x="97.59" y="0.3" width="9.5" height="32" fill="#90b1dc"/>
<rect x="107.08" y="29.5" width="9.5" height="14" fill="#9c929e"/>
<rect x="107.08" y="4.4" width="9.5" height="25.1" fill="#90b1dc"/>
<rect x="116.58" y="17.3" width="9.5" height="26.2" fill="#9c929e"/>
<rect x="116.58" y="2" width="9.5" height="15.3" fill="#90b1dc"/>
<rect x="126.08" y="15.5" width="9.5" height="28" fill="#9c929e"/>
<rect x="126.08" y="3.3" width="9.5" height="12.2" fill="#90b1dc"/>
<rect x="135.57" y="13.3" width="9.5" height="30.2" fill="#9c929e"/>
<rect x="135.57" y="6.25" width="9.5" height="7.05" fill="#90b1dc"/>
<rect x="145.07" y="14.4" width="9.5" height="29.1" fill="#9c929e"/>
<rect x="145.07" y="13.7" width="9.5" height="0.7" fill="#90b1dc"/>
<rect x="154.57" y="11.4" width="9.5" height="32.1" fill="#9c929e"/>
<rect x="154.57" y="11.3" width="9.5" height="0.1" fill="#fdba80"/>
<rect x="164.06" y="17" width="9.5" height="26.5" fill="#9c929e"/>
<rect x="164.06" y="16.2" width="9.5" height="0.8" fill="#90b1dc"/>
<rect x="173.56" y="26.3" width="9.5" height="17.2" fill="#9c929e"/>
<rect x="173.56" y="13.3" width="9.5" height="13" fill="#fdba80"/>
<rect x="183.06" y="31.5" width="9.5" height="12" fill="#9c929e"/>
<rect x="183.06" y="18.4" width="9.5" height="13.1" fill="#fdba80"/>
<rect x="192.55" y="34.8" width="9.5" height="8.7" fill="#9c929e"/>
<rect x="192.55" y="27.5" width="9.5" height="7.3" fill="#fdba80"/>
<rect x="202.05" y="36.2" width="9.5" height="7.3" fill="#9c929e"/>
<rect x="202.05" y="26.3" width="9.5" height="9.9" fill="#fdba80"/>
<rect x="211.55" y="39.9" width="9.5" height="3.6" fill="#9c929e"/>
<rect x="211.55" y="34.3" width="9.5" height="5.6" fill="#fdba80"/>
<rect x="221.05" y="39.9" width="9.5" height="3.6" fill="#9c929e"/>
<rect x="221.05" y="31.2" width="9.5" height="8.7" fill="#fdba80"/>
<rect x="230.54" y="42.3" width="9.5" height="1.2" fill="#9c929e"/>
<rect x="230.54" y="39.5" width="9.5" height="2.8" fill="#fdba80"/>
<rect x="240.04" y="41.5" width="9.5" height="2" fill="#9c929e"/>
<rect x="240.04" y="39.5" width="9.5" height="2" fill="#fdba80"/>
<rect x="249.54" y="42.3" width="9.5" height="1.2" fill="#9c929e"/>
<rect x="259.03" y="42.6" width="9.5" height="0.9" fill="#9c929e"/>
<rect x="259.03" y="42.3" width="9.5" height="0.3" fill="#90b1dc"/>
<rect x="278.03" y="41.6" width="9.5" height="1.9" fill="#fdba80"/>
<rect x="50.1" y="36.2" width="9.5" height="7.3" fill="none" stroke="#3a3a3a" stroke-width="0.8"/>
<rect x="59.6" y="32.2" width="9.5" height="11.3" fill="none" stroke="#3a3a3a" stroke-width="0.8"/>
<rect x="69.09" y="27.4" width="9.5" height="16.1" fill="none" stroke="#3a3a3a" stroke-width="0.8"/>
<rect x="78.59" y="41.2" width="9.5" height="2.3" fill="none" stroke="#3a3a3a" stroke-width="0.8"/>
<rect x="78.59" y="11.4" width="9.5" height="32.1" fill="none" stroke="#3a3a3a" stroke-width="0.8"/>
<rect x="88.09" y="38.6" width="9.5" height="4.9" fill="none" stroke="#3a3a3a" stroke-width="0.8"/>
<rect x="88.09" y="10.4" width="9.5" height="33.1" fill="none" stroke="#3a3a3a" stroke-width="0.8"/>
<rect x="97.59" y="32.3" width="9.5" height="11.2" fill="none" stroke="#3a3a3a" stroke-width="0.8"/>
<rect x="97.59" y="0.3" width="9.5" height="43.2" fill="none" stroke="#3a3a3a" stroke-width="0.8"/>
<rect x="107.08" y="29.5" width="9.5" height="14" fill="none" stroke="#3a3a3a" stroke-width="0.8"/>
<rect x="107.08" y="4.4" width="9.5" height="39.1" fill="none" stroke="#3a3a3a" stroke-width="0.8"/>
<rect x="116.58" y="17.3" width="9.5" height="26.2" fill="none" stroke="#3a3a3a" stroke-width="0.8"/>
<rect x="116.58" y="2" width="9.5" height="41.5" fill="none" stroke="#3a3a3a" stroke-width="0.8"/>
<rect x="126.08" y="15.5" width="9.5" height="28" fill="none" stroke="#3a3a3a" stroke-width="0.8"/>
<rect x="126.08" y="3.3" width="9.5" height="40.2" fill="none" stroke="#3a3a3a" stroke-width="0.8"/>
<rect x="135.57" y="13.3" width="9.5" height="30.2" fill="none" stroke="#3a3a3a" stroke-width="0.8"/>
<rect x="135.57" y="6.25" width="9.5" height="37.25" fill="none" stroke="#3a3a3a" stroke-width="0.8"/>
<rect x="145.07" y="14.4" width="9.5" height="29.1" fill="none" stroke="#3a3a3a" stroke-width="0.8"/>
<rect x="145.07" y="13.7" width="9.5" height="29.8" fill="none" stroke="#3a3a3a" stroke-width="0.8"/>
<rect x="154.57" y="11.3" width="9.5" height="32.2" fill="none" stroke="#3a3a3a" stroke-width="0.8"/>
<rect x="154.57" y="11.4" width="9.5" height="32.1" fill="none" stroke="#3a3a3a" stroke-width="0.8"/>
<rect x="164.06" y="17" width="9.5" height="26.5" fill="none" stroke="#3a3a3a" stroke-width="0.8"/>
<rect x="164.06" y="16.2" width="9.5" height="27.3" fill="none" stroke="#3a3a3a" stroke-width="0.8"/>
<rect x="173.56" y="13.3" width="9.5" height="30.2" fill="none" stroke="#3a3a3a" stroke-width="0.8"/>
<rect x="173.56" y="26.3" width="9.5" height="17.2" fill="none" stroke="#3a3a3a" stroke-width="0.8"/>
<rect x="183.06" y="18.4" width="9.5" height="25.1" fill="none" stroke="#3a3a3a" stroke-width="0.8"/>
<rect x="183.06" y="31.5" width="9.5" height="12" fill="none" stroke="#3a3a3a" stroke-width="0.8"/>
<rect x="192.55" y="27.5" width="9.5" height="16" fill="none" stroke="#3a3a3a" stroke-width="0.8"/>
<rect x="192.55" y="34.8" width="9.5" height="8.7" fill="none" stroke="#3a3a3a" stroke-width="0.8"/>
<rect x="202.05" y="26.3" width="9.5" height="17.2" fill="none" stroke="#3a3a3a" stroke-width="0.8"/>
<rect x="202.05" y="36.2" width="9.5" height="7.3" fill="none" stroke="#3a3a3a" stroke-width="0.8"/>
<rect x="211.55" y="34.3" width="9.5" height="9.2" fill="none" stroke="#3a3a3a" stroke-width="0.8"/>
<rect x="211.55" y="39.9" width="9.5" height="3.6" fill="none" stroke="#3a3a3a" stroke-width="0.8"/>
<rect x="221.05" y="31.2" width="9.5" height="12.3" fill="none" stroke="#3a3a3a" stroke-width="0.8"/>
<rect x="221.05" y="39.9" width="9.5" height="3.6" fill="none" stroke="#3a3a3a" stroke-width="0.8"/>
<rect x="230.54" y="39.5" width="9.5" height="4" fill="none" stroke="#3a3a3a" stroke-width="0.8"/>
<rect x="230.54" y="42.3" width="9.5" height="1.2" fill="none" stroke="#3a3a3a" stroke-width="0.8"/>
<rect x="240.04" y="39.5" width="9.5" height="4" fill="none" stroke="#3a3a3a" stroke-width="0.8"/>
<rect x="240.04" y="41.5" width="9.5" height="2" fill="none" stroke="#3a3a3a" stroke-width="0.8"/>
<rect x="249.54" y="42.3" width="9.5" height="1.2" fill="none" stroke="#3a3a3a" stroke-width="0.8"/>
<rect x="249.54" y="42.3" width="9.5" height="1.2" fill="none" stroke="#3a3a3a" stroke-width="0.8"/>
<rect x="259.03" y="42.6" width="9.5" height="0.9" fill="none" stroke="#3a3a3a" stroke-width="0.8"/>
<rect x="259.03" y="42.3" width="9.5" height="1.2" fill="none" stroke="#3a3a3a" stroke-width="0.8"/>
<rect x="278.03" y="41.6" width="9.5" height="1.9" fill="none" stroke="#3a3a3a" stroke-width="0.8"/>
<line x1="37.8" y1="43.5" x2="300" y2="43.5" stroke="#555555" stroke-width="0.9"/>
<line x1="40.4" y1="43.5" x2="40.4" y2="46.6" stroke="#555555" stroke-width="0.9"/>
<line x1="92.16" y1="43.5" x2="92.16" y2="46.6" stroke="#555555" stroke-width="0.9"/>
<line x1="143.92" y1="43.5" x2="143.92" y2="46.6" stroke="#555555" stroke-width="0.9"/>
<line x1="195.68" y1="43.5" x2="195.68" y2="46.6" stroke="#555555" stroke-width="0.9"/>
<line x1="247.44" y1="43.5" x2="247.44" y2="46.6" stroke="#555555" stroke-width="0.9"/>
<line x1="299.2" y1="43.5" x2="299.2" y2="46.6" stroke="#555555" stroke-width="0.9"/>
<rect x="308.4" y="61.14" width="0.6" height="11.07" fill="#9c929e"/>
<rect x="309" y="61.14" width="0.8" height="11.07" fill="#fdba80"/>
<rect x="308.4" y="72.22" width="1.4" height="11.07" fill="#9c929e"/>
<rect x="309.8" y="72.22" width="1.1" height="11.07" fill="#fdba80"/>
<rect x="308.4" y="83.29" width="2.8" height="11.07" fill="#9c929e"/>
<rect x="311.2" y="83.29" width="0.2" height="11.07" fill="#90b1dc"/>
<rect x="308.4" y="94.37" width="2" height="11.07" fill="#9c929e"/>
<rect x="310.4" y="94.37" width="0.5" height="11.07" fill="#fdba80"/>
<rect x="308.4" y="105.44" width="2.5" height="11.07" fill="#9c929e"/>
<rect x="310.9" y="105.44" width="3.5" height="11.07" fill="#fdba80"/>
<rect x="308.4" y="116.52" width="3" height="11.07" fill="#9c929e"/>
<rect x="311.4" y="116.52" width="2.6" height="11.07" fill="#fdba80"/>
<rect x="308.4" y="127.59" width="6" height="11.07" fill="#9c929e"/>
<rect x="314.4" y="127.59" width="9.2" height="11.07" fill="#fdba80"/>
<rect x="308.4" y="138.67" width="5.2" height="11.07" fill="#9c929e"/>
<rect x="313.6" y="138.67" width="9" height="11.07" fill="#fdba80"/>
<rect x="308.4" y="149.75" width="9.1" height="11.07" fill="#9c929e"/>
<rect x="317.5" y="149.75" width="15.8" height="11.07" fill="#fdba80"/>
<rect x="308.4" y="160.82" width="14.2" height="11.07" fill="#9c929e"/>
<rect x="322.6" y="160.82" width="8.5" height="11.07" fill="#fdba80"/>
<rect x="308.4" y="171.89" width="23.2" height="11.07" fill="#9c929e"/>
<rect x="331.6" y="171.89" width="1.9" height="11.07" fill="#90b1dc"/>
<rect x="308.4" y="182.97" width="33.2" height="11.07" fill="#9c929e"/>
<rect x="341.6" y="182.97" width="3.8" height="11.07" fill="#90b1dc"/>
<rect x="308.4" y="194.04" width="24.9" height="11.07" fill="#9c929e"/>
<rect x="333.3" y="194.04" width="5.2" height="11.07" fill="#90b1dc"/>
<rect x="308.4" y="205.12" width="22.2" height="11.07" fill="#9c929e"/>
<rect x="330.6" y="205.12" width="9.9" height="11.07" fill="#90b1dc"/>
<rect x="308.4" y="216.19" width="14.8" height="11.07" fill="#9c929e"/>
<rect x="323.2" y="216.19" width="15.2" height="11.07" fill="#90b1dc"/>
<rect x="308.4" y="227.27" width="10.2" height="11.07" fill="#9c929e"/>
<rect x="318.6" y="227.27" width="15.8" height="11.07" fill="#90b1dc"/>
<rect x="308.4" y="238.34" width="10" height="11.07" fill="#9c929e"/>
<rect x="318.4" y="238.34" width="32.6" height="11.07" fill="#90b1dc"/>
<rect x="308.4" y="249.42" width="4.9" height="11.07" fill="#9c929e"/>
<rect x="313.3" y="249.42" width="20.2" height="11.07" fill="#90b1dc"/>
<rect x="308.4" y="260.5" width="1.7" height="11.07" fill="#9c929e"/>
<rect x="310.1" y="260.5" width="17.7" height="11.07" fill="#90b1dc"/>
<rect x="308.4" y="271.57" width="0.6" height="11.07" fill="#9c929e"/>
<rect x="309" y="271.57" width="7.8" height="11.07" fill="#90b1dc"/>
<rect x="308.4" y="282.64" width="7" height="11.07" fill="#90b1dc"/>
<rect x="308.4" y="293.72" width="5.2" height="11.07" fill="#90b1dc"/>
<rect x="308.4" y="61.14" width="1.4" height="11.07" fill="none" stroke="#3a3a3a" stroke-width="0.8"/>
<rect x="308.4" y="61.14" width="0.6" height="11.07" fill="none" stroke="#3a3a3a" stroke-width="0.8"/>
<rect x="308.4" y="72.22" width="2.5" height="11.07" fill="none" stroke="#3a3a3a" stroke-width="0.8"/>
<rect x="308.4" y="72.22" width="1.4" height="11.07" fill="none" stroke="#3a3a3a" stroke-width="0.8"/>
<rect x="308.4" y="83.29" width="2.8" height="11.07" fill="none" stroke="#3a3a3a" stroke-width="0.8"/>
<rect x="308.4" y="83.29" width="3" height="11.07" fill="none" stroke="#3a3a3a" stroke-width="0.8"/>
<rect x="308.4" y="94.37" width="2.5" height="11.07" fill="none" stroke="#3a3a3a" stroke-width="0.8"/>
<rect x="308.4" y="94.37" width="2" height="11.07" fill="none" stroke="#3a3a3a" stroke-width="0.8"/>
<rect x="308.4" y="105.44" width="6" height="11.07" fill="none" stroke="#3a3a3a" stroke-width="0.8"/>
<rect x="308.4" y="105.44" width="2.5" height="11.07" fill="none" stroke="#3a3a3a" stroke-width="0.8"/>
<rect x="308.4" y="116.52" width="5.6" height="11.07" fill="none" stroke="#3a3a3a" stroke-width="0.8"/>
<rect x="308.4" y="116.52" width="3" height="11.07" fill="none" stroke="#3a3a3a" stroke-width="0.8"/>
<rect x="308.4" y="127.59" width="15.2" height="11.07" fill="none" stroke="#3a3a3a" stroke-width="0.8"/>
<rect x="308.4" y="127.59" width="6" height="11.07" fill="none" stroke="#3a3a3a" stroke-width="0.8"/>
<rect x="308.4" y="138.67" width="14.2" height="11.07" fill="none" stroke="#3a3a3a" stroke-width="0.8"/>
<rect x="308.4" y="138.67" width="5.2" height="11.07" fill="none" stroke="#3a3a3a" stroke-width="0.8"/>
<rect x="308.4" y="149.75" width="24.9" height="11.07" fill="none" stroke="#3a3a3a" stroke-width="0.8"/>
<rect x="308.4" y="149.75" width="9.1" height="11.07" fill="none" stroke="#3a3a3a" stroke-width="0.8"/>
<rect x="308.4" y="160.82" width="22.7" height="11.07" fill="none" stroke="#3a3a3a" stroke-width="0.8"/>
<rect x="308.4" y="160.82" width="14.2" height="11.07" fill="none" stroke="#3a3a3a" stroke-width="0.8"/>
<rect x="308.4" y="171.89" width="23.2" height="11.07" fill="none" stroke="#3a3a3a" stroke-width="0.8"/>
<rect x="308.4" y="171.89" width="25.1" height="11.07" fill="none" stroke="#3a3a3a" stroke-width="0.8"/>
<rect x="308.4" y="182.97" width="33.2" height="11.07" fill="none" stroke="#3a3a3a" stroke-width="0.8"/>
<rect x="308.4" y="182.97" width="37" height="11.07" fill="none" stroke="#3a3a3a" stroke-width="0.8"/>
<rect x="308.4" y="194.04" width="24.9" height="11.07" fill="none" stroke="#3a3a3a" stroke-width="0.8"/>
<rect x="308.4" y="194.04" width="30.1" height="11.07" fill="none" stroke="#3a3a3a" stroke-width="0.8"/>
<rect x="308.4" y="205.12" width="22.2" height="11.07" fill="none" stroke="#3a3a3a" stroke-width="0.8"/>
<rect x="308.4" y="205.12" width="32.1" height="11.07" fill="none" stroke="#3a3a3a" stroke-width="0.8"/>
<rect x="308.4" y="216.19" width="14.8" height="11.07" fill="none" stroke="#3a3a3a" stroke-width="0.8"/>
<rect x="308.4" y="216.19" width="30" height="11.07" fill="none" stroke="#3a3a3a" stroke-width="0.8"/>
<rect x="308.4" y="227.27" width="10.2" height="11.07" fill="none" stroke="#3a3a3a" stroke-width="0.8"/>
<rect x="308.4" y="227.27" width="26" height="11.07" fill="none" stroke="#3a3a3a" stroke-width="0.8"/>
<rect x="308.4" y="238.34" width="10" height="11.07" fill="none" stroke="#3a3a3a" stroke-width="0.8"/>
<rect x="308.4" y="238.34" width="42.6" height="11.07" fill="none" stroke="#3a3a3a" stroke-width="0.8"/>
<rect x="308.4" y="249.42" width="4.9" height="11.07" fill="none" stroke="#3a3a3a" stroke-width="0.8"/>
<rect x="308.4" y="249.42" width="25.1" height="11.07" fill="none" stroke="#3a3a3a" stroke-width="0.8"/>
<rect x="308.4" y="260.5" width="1.7" height="11.07" fill="none" stroke="#3a3a3a" stroke-width="0.8"/>
<rect x="308.4" y="260.5" width="19.4" height="11.07" fill="none" stroke="#3a3a3a" stroke-width="0.8"/>
<rect x="308.4" y="271.57" width="0.6" height="11.07" fill="none" stroke="#3a3a3a" stroke-width="0.8"/>
<rect x="308.4" y="271.57" width="8.4" height="11.07" fill="none" stroke="#3a3a3a" stroke-width="0.8"/>
<rect x="308.4" y="282.64" width="7" height="11.07" fill="none" stroke="#3a3a3a" stroke-width="0.8"/>
<rect x="308.4" y="293.72" width="5.2" height="11.07" fill="none" stroke="#3a3a3a" stroke-width="0.8"/>
<line x1="308.4" y1="52.4" x2="308.4" y2="317.85" stroke="#555555" stroke-width="0.9"/>
<line x1="305.4" y1="317.35" x2="308.4" y2="317.35" stroke="#555555" stroke-width="0.9"/>
<line x1="305.4" y1="279.51" x2="308.4" y2="279.51" stroke="#555555" stroke-width="0.9"/>
<line x1="305.4" y1="241.68" x2="308.4" y2="241.68" stroke="#555555" stroke-width="0.9"/>
<line x1="305.4" y1="203.84" x2="308.4" y2="203.84" stroke="#555555" stroke-width="0.9"/>
<line x1="305.4" y1="166.01" x2="308.4" y2="166.01" stroke="#555555" stroke-width="0.9"/>
<line x1="305.4" y1="128.17" x2="308.4" y2="128.17" stroke="#555555" stroke-width="0.9"/>
<line x1="305.4" y1="90.33" x2="308.4" y2="90.33" stroke="#555555" stroke-width="0.9"/>
<line x1="305.4" y1="52.5" x2="308.4" y2="52.5" stroke="#555555" stroke-width="0.9"/>
<rect x="52.6" y="66.4" width="17.2" height="5.7" fill="#1f77b6"/>
<rect x="52.6" y="81.3" width="17.2" height="5.7" fill="#f6821f"/>
<text x="75.6" y="72.9" font-size="10" text-anchor="start" fill="#262626">MatBERT</text>
<text x="75.6" y="87.8" font-size="10" text-anchor="start" fill="#262626">Mat2Vec (Baseline)</text>
<text x="295.7" y="302.9" font-size="11.74" text-anchor="end" fill="#262626">Composition embedding</text>
<text x="163.4" y="346.3" font-size="10" text-anchor="middle" fill="#262626">nDCG</text>
<rect x="615.06" y="68" width="5.95" height="6.56" fill="#bfd4ee"/>
<rect x="579.38" y="81.12" width="5.95" height="7.06" fill="#bfd4ee"/>
<rect x="591.27" y="81.12" width="6.45" height="6.56" fill="#bfd4ee"/>
<rect x="597.22" y="81.12" width="5.95" height="6.56" fill="#bfd4ee"/>
<rect x="567.5" y="87.67" width="5.95" height="6.56" fill="#bfd4ee"/>
<rect x="579.38" y="87.67" width="5.95" height="6.56" fill="#bfd4ee"/>
<rect x="603.16" y="94.23" width="5.95" height="6.56" fill="#bfd4ee"/>
<rect x="502.1" y="100.79" width="5.95" height="6.56" fill="#bfd4ee"/>
<rect x="555.61" y="100.79" width="5.95" height="6.56" fill="#bfd4ee"/>
<rect x="579.38" y="100.79" width="6.45" height="7.06" fill="#bfd4ee"/>
<rect x="585.33" y="100.79" width="5.95" height="7.06" fill="#bfd4ee"/>
<rect x="597.22" y="100.79" width="5.95" height="6.56" fill="#bfd4ee"/>
<rect x="508.04" y="107.35" width="5.95" height="6.56" fill="#bfd4ee"/>
<rect x="531.83" y="107.35" width="5.95" height="6.56" fill="#bfd4ee"/>
<rect x="543.72" y="107.35" width="6.45" height="6.56" fill="#bfd4ee"/>
<rect x="549.66" y="107.35" width="5.95" height="6.56" fill="#bfd4ee"/>
<rect x="561.55" y="107.35" width="6.45" height="6.56" fill="#bfd4ee"/>
<rect x="567.5" y="107.35" width="5.95" height="6.56" fill="#bfd4ee"/>
<rect x="579.38" y="107.35" width="6.45" height="7.06" fill="#bfd4ee"/>
<rect x="585.33" y="107.35" width="5.95" height="6.56" fill="#bfd4ee"/>
<rect x="537.77" y="113.91" width="5.95" height="6.56" fill="#bfd4ee"/>
<rect x="579.38" y="113.91" width="5.95" height="6.56" fill="#bfd4ee"/>
<rect x="549.66" y="120.46" width="5.95" height="7.06" fill="#bfd4ee"/>
<rect x="567.5" y="120.46" width="5.95" height="6.56" fill="#bfd4ee"/>
<rect x="585.33" y="120.46" width="5.95" height="7.06" fill="#bfd4ee"/>
<rect x="597.22" y="120.46" width="5.95" height="7.06" fill="#bfd4ee"/>
<rect x="502.1" y="127.02" width="5.95" height="6.56" fill="#bfd4ee"/>
<rect x="513.99" y="127.02" width="5.95" height="6.56" fill="#bfd4ee"/>
<rect x="531.83" y="127.02" width="6.45" height="6.56" fill="#bfd4ee"/>
<rect x="537.77" y="127.02" width="6.45" height="7.06" fill="#bfd4ee"/>
<rect x="543.72" y="127.02" width="6.45" height="6.56" fill="#bfd4ee"/>
<rect x="549.66" y="127.02" width="5.95" height="7.06" fill="#bfd4ee"/>
<rect x="585.33" y="127.02" width="5.95" height="6.56" fill="#bfd4ee"/>
<rect x="597.22" y="127.02" width="5.95" height="6.56" fill="#bfd4ee"/>
<rect x="496.15" y="133.58" width="5.95" height="6.56" fill="#bfd4ee"/>
<rect x="508.04" y="133.58" width="5.95" height="6.56" fill="#bfd4ee"/>
<rect x="519.93" y="133.58" width="5.95" height="7.06" fill="#bfd4ee"/>
<rect x="537.77" y="133.58" width="5.95" height="7.06" fill="#bfd4ee"/>
<rect x="549.66" y="133.58" width="5.95" height="6.56" fill="#bfd4ee"/>
<rect x="567.5" y="133.58" width="6.45" height="6.56" fill="#bfd4ee"/>
<rect x="573.44" y="133.58" width="5.95" height="6.56" fill="#bfd4ee"/>
<rect x="502.1" y="140.14" width="5.95" height="6.56" fill="#bfd4ee"/>
<rect x="519.93" y="140.14" width="5.95" height="7.06" fill="#bfd4ee"/>
<rect x="531.83" y="140.14" width="6.45" height="6.56" fill="#bfd4ee"/>
<rect x="537.77" y="140.14" width="6.45" height="6.56" fill="#bfd4ee"/>
<rect x="543.72" y="140.14" width="5.95" height="7.06" fill="#bfd4ee"/>
<rect x="496.15" y="146.7" width="5.95" height="6.56" fill="#bfd4ee"/>
<rect x="508.04" y="146.7" width="5.95" height="7.06" fill="#bfd4ee"/>
<rect x="519.93" y="146.7" width="5.95" height="7.06" fill="#bfd4ee"/>
<rect x="543.72" y="146.7" width="6.45" height="7.06" fill="#bfd4ee"/>
<rect x="549.66" y="146.7" width="5.95" height="6.56" fill="#bfd4ee"/>
<rect x="579.38" y="146.7" width="5.95" height="6.56" fill="#bfd4ee"/>
<rect x="591.27" y="146.7" width="5.95" height="6.56" fill="#bfd4ee"/>
<rect x="490.21" y="153.25" width="5.95" height="7.06" fill="#bfd4ee"/>
<rect x="502.1" y="153.25" width="6.45" height="7.06" fill="#bfd4ee"/>
<rect x="508.04" y="153.25" width="6.45" height="7.06" fill="#bfd4ee"/>
<rect x="513.99" y="153.25" width="6.45" height="7.06" fill="#bfd4ee"/>
<rect x="519.93" y="153.25" width="6.45" height="7.06" fill="#bfd4ee"/>
<rect x="525.88" y="153.25" width="6.45" height="7.06" fill="#bfd4ee"/>
<rect x="531.83" y="153.25" width="6.45" height="6.56" fill="#bfd4ee"/>
<rect x="537.77" y="153.25" width="6.45" height="7.06" fill="#bfd4ee"/>
<rect x="543.72" y="153.25" width="5.95" height="7.06" fill="#bfd4ee"/>
<rect x="555.61" y="153.25" width="6.45" height="7.06" fill="#bfd4ee"/>
<rect x="561.55" y="153.25" width="6.45" height="7.06" fill="#bfd4ee"/>
<rect x="567.5" y="153.25" width="6.45" height="6.56" fill="#bfd4ee"/>
<rect x="573.44" y="153.25" width="5.95" height="6.56" fill="#bfd4ee"/>
<rect x="484.26" y="159.81" width="6.45" height="7.06" fill="#bfd4ee"/>
<rect x="490.21" y="159.81" width="6.45" height="7.06" fill="#bfd4ee"/>
<rect x="496.15" y="159.81" width="6.45" height="6.56" fill="#bfd4ee"/>
<rect x="502.1" y="159.81" width="6.45" height="6.56" fill="#bfd4ee"/>
<rect x="508.04" y="159.81" width="6.45" height="7.06" fill="#bfd4ee"/>
<rect x="513.99" y="159.81" width="6.45" height="7.06" fill="#bfd4ee"/>
<rect x="519.93" y="159.81" width="6.45" height="6.56" fill="#bfd4ee"/>
<rect x="525.88" y="159.81" width="5.95" height="7.06" fill="#bfd4ee"/>
<rect x="537.77" y="159.81" width="6.45" height="7.06" fill="#bfd4ee"/>
<rect x="543.72" y="159.81" width="5.95" height="6.56" fill="#bfd4ee"/>
<rect x="555.61" y="159.81" width="6.45" height="7.06" fill="#bfd4ee"/>
<rect x="561.55" y="159.81" width="5.95" height="7.06" fill="#bfd4ee"/>
<rect x="472.38" y="166.37" width="5.95" height="7.06" fill="#bfd4ee"/>
<rect x="484.26" y="166.37" width="6.45" height="7.06" fill="#bfd4ee"/>
<rect x="490.21" y="166.37" width="5.95" height="7.06" fill="#bfd4ee"/>
<rect x="508.04" y="166.37" width="6.45" height="7.06" fill="#e5b7a6"/>
<rect x="513.99" y="166.37" width="5.95" height="7.06" fill="#bfd4ee"/>
<rect x="525.88" y="166.37" width="5.95" height="7.06" fill="#bfd4ee"/>
<rect x="537.77" y="166.37" width="5.95" height="7.06" fill="#bfd4ee"/>
<rect x="549.66" y="166.37" width="6.45" height="6.56" fill="#bfd4ee"/>
<rect x="555.61" y="166.37" width="6.45" height="7.06" fill="#bfd4ee"/>
<rect x="561.55" y="166.37" width="5.95" height="7.06" fill="#bfd4ee"/>
<rect x="460.49" y="172.93" width="5.95" height="7.06" fill="#bfd4ee"/>
<rect x="472.38" y="172.93" width="6.45" height="7.06" fill="#bfd4ee"/>
<rect x="478.32" y="172.93" width="6.45" height="7.06" fill="#e5b7a6"/>
<rect x="484.26" y="172.93" width="6.45" height="7.06" fill="#bfd4ee"/>
<rect x="490.21" y="172.93" width="6.45" height="6.56" fill="#abc9ec"/>
<rect x="496.15" y="172.93" width="6.45" height="7.06" fill="#e5b7a6"/>
<rect x="502.1" y="172.93" width="6.45" height="7.06" fill="#abc9ec"/>
<rect x="508.04" y="172.93" width="6.45" height="7.06" fill="#bfd4ee"/>
<rect x="513.99" y="172.93" width="6.45" height="7.06" fill="#bfd4ee"/>
<rect x="519.93" y="172.93" width="6.45" height="7.06" fill="#bfd4ee"/>
<rect x="525.88" y="172.93" width="5.95" height="7.06" fill="#bfd4ee"/>
<rect x="537.77" y="172.93" width="6.45" height="7.06" fill="#bfd4ee"/>
<rect x="543.72" y="172.93" width="5.95" height="7.06" fill="#bfd4ee"/>
<rect x="555.61" y="172.93" width="6.45" height="7.06" fill="#bfd4ee"/>
<rect x="561.55" y="172.93" width="5.95" height="7.06" fill="#bfd4ee"/>
<rect x="579.38" y="172.93" width="5.95" height="6.56" fill="#bfd4ee"/>
<rect x="460.49" y="179.49" width="6.45" height="7.06" fill="#f7c5ae"/>
<rect x="466.43" y="179.49" width="6.45" height="7.06" fill="#bfd4ee"/>
<rect x="472.38" y="179.49" width="6.45" height="7.06" fill="#bfd4ee"/>
<rect x="478.32" y="179.49" width="6.45" height="7.06" fill="#bfd4ee"/>
<rect x="484.26" y="179.49" width="5.95" height="7.06" fill="#bfd4ee"/>
<rect x="496.15" y="179.49" width="6.45" height="7.06" fill="#bfd4ee"/>
<rect x="502.1" y="179.49" width="6.45" height="6.56" fill="#bfd4ee"/>
<rect x="508.04" y="179.49" width="6.45" height="7.06" fill="#bfd4ee"/>
<rect x="513.99" y="179.49" width="6.45" height="7.06" fill="#e5b7a6"/>
<rect x="519.93" y="179.49" width="6.45" height="7.06" fill="#bfd4ee"/>
<rect x="525.88" y="179.49" width="5.95" height="7.06" fill="#bfd4ee"/>
<rect x="537.77" y="179.49" width="6.45" height="7.06" fill="#bfd4ee"/>
<rect x="543.72" y="179.49" width="6.45" height="7.06" fill="#bfd4ee"/>
<rect x="549.66" y="179.49" width="6.45" height="7.06" fill="#bfd4ee"/>
<rect x="555.61" y="179.49" width="6.45" height="6.56" fill="#bfd4ee"/>
<rect x="561.55" y="179.49" width="5.95" height="6.56" fill="#bfd4ee"/>
<rect x="460.49" y="186.04" width="6.45" height="7.06" fill="#f7c5ae"/>
<rect x="466.43" y="186.04" width="6.45" height="7.06" fill="#e5b7a6"/>
<rect x="472.38" y="186.04" width="6.45" height="7.06" fill="#bfd4ee"/>
<rect x="478.32" y="186.04" width="6.45" height="7.06" fill="#bfd4ee"/>
<rect x="484.26" y="186.04" width="6.45" height="7.06" fill="#bfd4ee"/>
<rect x="490.21" y="186.04" width="6.45" height="7.06" fill="#f7c5ae"/>
<rect x="496.15" y="186.04" width="5.95" height="7.06" fill="#e5b7a6"/>
<rect x="508.04" y="186.04" width="6.45" height="7.06" fill="#bfd4ee"/>
<rect x="513.99" y="186.04" width="6.45" height="7.06" fill="#bfd4ee"/>
<rect x="519.93" y="186.04" width="6.45" height="7.06" fill="#bfd4ee"/>
<rect x="525.88" y="186.04" width="6.45" height="7.06" fill="#bfd4ee"/>
<rect x="531.83" y="186.04" width="6.45" height="7.06" fill="#bfd4ee"/>
<rect x="537.77" y="186.04" width="6.45" height="7.06" fill="#bfd4ee"/>
<rect x="543.72" y="186.04" width="6.45" height="7.06" fill="#bfd4ee"/>
<rect x="549.66" y="186.04" width="5.95" height="7.06" fill="#bfd4ee"/>
<rect x="448.6" y="192.6" width="6.45" height="7.06" fill="#f7c5ae"/>
<rect x="454.54" y="192.6" width="6.45" height="7.06" fill="#e5b7a6"/>
<rect x="460.49" y="192.6" width="6.45" height="7.06" fill="#bfd4ee"/>
<rect x="466.43" y="192.6" width="6.45" height="7.06" fill="#e5b7a6"/>
<rect x="472.38" y="192.6" width="6.45" height="7.06" fill="#e5b7a6"/>
<rect x="478.32" y="192.6" width="6.45" height="7.06" fill="#e5b7a6"/>
<rect x="484.26" y="192.6" width="6.45" height="7.06" fill="#e5b7a6"/>
<rect x="490.21" y="192.6" width="6.45" height="7.06" fill="#e3a487"/>
<rect x="496.15" y="192.6" width="6.45" height="7.06" fill="#e5b7a6"/>
<rect x="502.1" y="192.6" width="6.45" height="7.06" fill="#e5b7a6"/>
<rect x="508.04" y="192.6" width="6.45" height="7.06" fill="#bfd4ee"/>
<rect x="513.99" y="192.6" width="6.45" height="7.06" fill="#e5b7a6"/>
<rect x="519.93" y="192.6" width="6.45" height="7.06" fill="#e5b7a6"/>
<rect x="525.88" y="192.6" width="6.45" height="6.56" fill="#bfd4ee"/>
<rect x="531.83" y="192.6" width="6.45" height="7.06" fill="#bfd4ee"/>
<rect x="537.77" y="192.6" width="6.45" height="7.06" fill="#bfd4ee"/>
<rect x="543.72" y="192.6" width="6.45" height="6.56" fill="#bfd4ee"/>
<rect x="549.66" y="192.6" width="6.45" height="6.56" fill="#bfd4ee"/>
<rect x="555.61" y="192.6" width="5.95" height="6.56" fill="#bfd4ee"/>
<rect x="567.5" y="192.6" width="5.95" height="6.56" fill="#bfd4ee"/>
<rect x="448.6" y="199.16" width="6.45" height="7.06" fill="#bfd4ee"/>
<rect x="454.54" y="199.16" width="6.45" height="7.06" fill="#e5b7a6"/>
<rect x="460.49" y="199.16" width="6.45" height="7.06" fill="#f7c5ae"/>
<rect x="466.43" y="199.16" width="6.45" height="7.06" fill="#e5b7a6"/>
<rect x="472.38" y="199.16" width="6.45" height="7.06" fill="#e5b7a6"/>
<rect x="478.32" y="199.16" width="6.45" height="7.06" fill="#f7c5ae"/>
<rect x="484.26" y="199.16" width="6.45" height="7.06" fill="#abc9ec"/>
<rect x="490.21" y="199.16" width="6.45" height="7.06" fill="#abc9ec"/>
<rect x="496.15" y="199.16" width="6.45" height="7.06" fill="#e5b7a6"/>
<rect x="502.1" y="199.16" width="6.45" height="7.06" fill="#e5b7a6"/>
<rect x="508.04" y="199.16" width="6.45" height="7.06" fill="#e5b7a6"/>
<rect x="513.99" y="199.16" width="6.45" height="7.06" fill="#bfd4ee"/>
<rect x="519.93" y="199.16" width="5.95" height="7.06" fill="#bfd4ee"/>
<rect x="531.83" y="199.16" width="6.45" height="7.06" fill="#bfd4ee"/>
<rect x="537.77" y="199.16" width="5.95" height="6.56" fill="#bfd4ee"/>
<rect x="561.55" y="199.16" width="5.95" height="6.56" fill="#bfd4ee"/>
<rect x="442.65" y="205.72" width="6.45" height="7.06" fill="#bfd4ee"/>
<rect x="448.6" y="205.72" width="6.45" height="7.06" fill="#e5b7a6"/>
<rect x="454.54" y="205.72" width="6.45" height="7.06" fill="#e5b7a6"/>
<rect x="460.49" y="205.72" width="6.45" height="7.06" fill="#e5b7a6"/>
<rect x="466.43" y="205.72" width="6.45" height="7.06" fill="#e5b7a6"/>
<rect x="472.38" y="205.72" width="6.45" height="7.06" fill="#e5b7a6"/>
<rect x="478.32" y="205.72" width="6.45" height="7.06" fill="#e5b7a6"/>
<rect x="484.26" y="205.72" width="6.45" height="7.06" fill="#e5b7a6"/>
<rect x="490.21" y="205.72" width="6.45" height="7.06" fill="#e5b7a6"/>
<rect x="496.15" y="205.72" width="6.45" height="7.06" fill="#e5b7a6"/>
<rect x="502.1" y="205.72" width="6.45" height="7.06" fill="#e5b7a6"/>
<rect x="508.04" y="205.72" width="6.45" height="7.06" fill="#e5b7a6"/>
<rect x="513.99" y="205.72" width="6.45" height="7.06" fill="#e5b7a6"/>
<rect x="519.93" y="205.72" width="5.95" height="6.56" fill="#bfd4ee"/>
<rect x="531.83" y="205.72" width="5.95" height="7.06" fill="#bfd4ee"/>
<rect x="543.72" y="205.72" width="5.95" height="6.56" fill="#bfd4ee"/>
<rect x="442.65" y="212.28" width="6.45" height="7.06" fill="#bfd4ee"/>
<rect x="448.6" y="212.28" width="6.45" height="7.06" fill="#e5b7a6"/>
<rect x="454.54" y="212.28" width="6.45" height="7.06" fill="#e3a487"/>
<rect x="460.49" y="212.28" width="6.45" height="7.06" fill="#e3a487"/>
<rect x="466.43" y="212.28" width="6.45" height="7.06" fill="#e5b7a6"/>
<rect x="472.38" y="212.28" width="6.45" height="7.06" fill="#e5b7a6"/>
<rect x="478.32" y="212.28" width="6.45" height="7.06" fill="#e5b7a6"/>
<rect x="484.26" y="212.28" width="6.45" height="7.06" fill="#e5b7a6"/>
<rect x="490.21" y="212.28" width="6.45" height="7.06" fill="#abc9ec"/>
<rect x="496.15" y="212.28" width="6.45" height="7.06" fill="#e5b7a6"/>
<rect x="502.1" y="212.28" width="6.45" height="7.06" fill="#e5b7a6"/>
<rect x="508.04" y="212.28" width="6.45" height="7.06" fill="#e5b7a6"/>
<rect x="513.99" y="212.28" width="5.95" height="7.06" fill="#abc9ec"/>
<rect x="525.88" y="212.28" width="6.45" height="7.06" fill="#e5b7a6"/>
<rect x="531.83" y="212.28" width="5.95" height="7.06" fill="#e5b7a6"/>
<rect x="549.66" y="212.28" width="5.95" height="6.56" fill="#bfd4ee"/>
<rect x="430.76" y="218.83" width="6.45" height="7.06" fill="#bfd4ee"/>
<rect x="436.7" y="218.83" width="6.45" height="7.06" fill="#e5b7a6"/>
<rect x="442.65" y="218.83" width="6.45" height="7.06" fill="#e5b7a6"/>
<rect x="448.6" y="218.83" width="6.45" height="7.06" fill="#e39a63"/>
<rect x="454.54" y="218.83" width="6.45" height="7.06" fill="#d08553"/>
<rect x="460.49" y="218.83" width="6.45" height="7.06" fill="#d08553"/>
<rect x="466.43" y="218.83" width="6.45" height="7.06" fill="#e39a63"/>
<rect x="472.38" y="218.83" width="6.45" height="7.06" fill="#e3a487"/>
<rect x="478.32" y="218.83" width="6.45" height="7.06" fill="#e3a487"/>
<rect x="484.26" y="218.83" width="6.45" height="7.06" fill="#e3a487"/>
<rect x="490.21" y="218.83" width="6.45" height="7.06" fill="#e5b7a6"/>
<rect x="496.15" y="218.83" width="6.45" height="7.06" fill="#f7c5ae"/>
<rect x="502.1" y="218.83" width="6.45" height="7.06" fill="#e5b7a6"/>
<rect x="508.04" y="218.83" width="6.45" height="7.06" fill="#e5b7a6"/>
<rect x="513.99" y="218.83" width="6.45" height="6.56" fill="#bfd4ee"/>
<rect x="519.93" y="218.83" width="6.45" height="6.56" fill="#f7c5ae"/>
<rect x="525.88" y="218.83" width="6.45" height="7.06" fill="#bfd4ee"/>
<rect x="531.83" y="218.83" width="5.95" height="7.06" fill="#bfd4ee"/>
<rect x="543.72" y="218.83" width="5.95" height="6.56" fill="#bfd4ee"/>
<rect x="424.81" y="225.39" width="6.45" height="7.06" fill="#bfd4ee"/>
<rect x="430.76" y="225.39" width="6.45" height="7.06" fill="#e5b7a6"/>
<rect x="436.7" y="225.39" width="6.45" height="7.06" fill="#e3a487"/>
<rect x="442.65" y="225.39" width="6.45" height="7.06" fill="#e39a63"/>
<rect x="448.6" y="225.39" width="6.45" height="7.06" fill="#e3a487"/>
<rect x="454.54" y="225.39" width="6.45" height="7.06" fill="#e39a63"/>
<rect x="460.49" y="225.39" width="6.45" height="7.06" fill="#e39a63"/>
<rect x="466.43" y="225.39" width="6.45" height="7.06" fill="#e3a487"/>
<rect x="472.38" y="225.39" width="6.45" height="7.06" fill="#e3a487"/>
<rect x="478.32" y="225.39" width="6.45" height="7.06" fill="#abc9ec"/>
<rect x="484.26" y="225.39" width="6.45" height="7.06" fill="#e5b7a6"/>
<rect x="490.21" y="225.39" width="6.45" height="7.06" fill="#e5b7a6"/>
<rect x="496.15" y="225.39" width="6.45" height="7.06" fill="#f7c5ae"/>
<rect x="502.1" y="225.39" width="6.45" height="7.06" fill="#e5b7a6"/>
<rect x="508.04" y="225.39" width="5.95" height="7.06" fill="#e5b7a6"/>
<rect x="525.88" y="225.39" width="6.45" height="6.56" fill="#bfd4ee"/>
<rect x="531.83" y="225.39" width="5.95" height="6.56" fill="#bfd4ee"/>
<rect x="424.81" y="231.95" width="6.45" height="7.06" fill="#f7c5ae"/>
<rect x="430.76" y="231.95" width="6.45" height="7.06" fill="#f7c5ae"/>
<rect x="436.7" y="231.95" width="6.45" height="7.06" fill="#e3a487"/>
<rect x="442.65" y="231.95" width="6.45" height="7.06" fill="#e3a487"/>
<rect x="448.6" y="231.95" width="6.45" height="7.06" fill="#e3a487"/>
<rect x="454.54" y="231.95" width="6.45" height="7.06" fill="#e5b7a6"/>
<rect x="460.49" y="231.95" width="6.45" height="7.06" fill="#e39a63"/>
<rect x="466.43" y="231.95" width="6.45" height="7.06" fill="#e5b7a6"/>
<rect x="472.38" y="231.95" width="6.45" height="7.06" fill="#e3a487"/>
<rect x="478.32" y="231.95" width="6.45" height="7.06" fill="#e5b7a6"/>
<rect x="484.26" y="231.95" width="6.45" height="7.06" fill="#e5b7a6"/>
<rect x="490.21" y="231.95" width="6.45" height="7.06" fill="#e5b7a6"/>
<rect x="496.15" y="231.95" width="6.45" height="7.06" fill="#e5b7a6"/>
<rect x="502.1" y="231.95" width="6.45" height="7.06" fill="#bfd4ee"/>
<rect x="508.04" y="231.95" width="6.45" height="7.06" fill="#e5b7a6"/>
<rect x="513.99" y="231.95" width="6.45" height="7.06" fill="#bfd4ee"/>
<rect x="519.93" y="231.95" width="5.95" height="6.56" fill="#bfd4ee"/>
<rect x="424.81" y="238.51" width="6.45" height="7.06" fill="#e5b7a6"/>
<rect x="430.76" y="238.51" width="6.45" height="7.06" fill="#f8b894"/>
<rect x="436.7" y="238.51" width="6.45" height="7.06" fill="#e39a63"/>
<rect x="442.65" y="238.51" width="6.45" height="7.06" fill="#d08553"/>
<rect x="448.6" y="238.51" width="6.45" height="7.06" fill="#9e6c5a"/>
<rect x="454.54" y="238.51" width="6.45" height="7.06" fill="#d08553"/>
<rect x="460.49" y="238.51" width="6.45" height="7.06" fill="#e39a63"/>
<rect x="466.43" y="238.51" width="6.45" height="7.06" fill="#e39a63"/>
<rect x="472.38" y="238.51" width="6.45" height="7.06" fill="#e39a63"/>
<rect x="478.32" y="238.51" width="6.45" height="7.06" fill="#e5b7a6"/>
<rect x="484.26" y="238.51" width="6.45" height="6.56" fill="#e3a487"/>
<rect x="490.21" y="238.51" width="6.45" height="7.06" fill="#e5b7a6"/>
<rect x="496.15" y="238.51" width="6.45" height="7.06" fill="#bfd4ee"/>
<rect x="502.1" y="238.51" width="6.45" height="7.06" fill="#bfd4ee"/>
<rect x="508.04" y="238.51" width="6.45" height="7.06" fill="#bfd4ee"/>
<rect x="513.99" y="238.51" width="5.95" height="6.56" fill="#bfd4ee"/>
<rect x="543.72" y="238.51" width="5.95" height="6.56" fill="#bfd4ee"/>
<rect x="418.87" y="245.07" width="6.45" height="7.06" fill="#bfd4ee"/>
<rect x="424.81" y="245.07" width="6.45" height="7.06" fill="#e5b7a6"/>
<rect x="430.76" y="245.07" width="6.45" height="7.06" fill="#e39a63"/>
<rect x="436.7" y="245.07" width="6.45" height="7.06" fill="#e39a63"/>
<rect x="442.65" y="245.07" width="6.45" height="7.06" fill="#e39a63"/>
<rect x="448.6" y="245.07" width="6.45" height="7.06" fill="#e3a487"/>
<rect x="454.54" y="245.07" width="6.45" height="7.06" fill="#e3a487"/>
<rect x="460.49" y="245.07" width="6.45" height="7.06" fill="#e5b7a6"/>
<rect x="466.43" y="245.07" width="6.45" height="7.06" fill="#e5b7a6"/>
<rect x="472.38" y="245.07" width="6.45" height="7.06" fill="#e5b7a6"/>
<rect x="478.32" y="245.07" width="5.95" height="7.06" fill="#e5b7a6"/>
<rect x="490.21" y="245.07" width="6.45" height="7.06" fill="#e5b7a6"/>
<rect x="496.15" y="245.07" width="6.45" height="6.56" fill="#e5b7a6"/>
<rect x="502.1" y="245.07" width="6.45" height="7.06" fill="#bfd4ee"/>
<rect x="508.04" y="245.07" width="5.95" height="7.06" fill="#f7c5ae"/>
<rect x="418.87" y="251.62" width="6.45" height="7.06" fill="#bfd4ee"/>
<rect x="424.81" y="251.62" width="6.45" height="7.06" fill="#f8b894"/>
<rect x="430.76" y="251.62" width="6.45" height="7.06" fill="#e39a63"/>
<rect x="436.7" y="251.62" width="6.45" height="7.06" fill="#e39a63"/>
<rect x="442.65" y="251.62" width="6.45" height="7.06" fill="#d08553"/>
<rect x="448.6" y="251.62" width="6.45" height="7.06" fill="#e3a487"/>
<rect x="454.54" y="251.62" width="6.45" height="7.06" fill="#e5b7a6"/>
<rect x="460.49" y="251.62" width="6.45" height="7.06" fill="#e5b7a6"/>
<rect x="466.43" y="251.62" width="6.45" height="7.06" fill="#e5b7a6"/>
<rect x="472.38" y="251.62" width="6.45" height="7.06" fill="#e5b7a6"/>
<rect x="478.32" y="251.62" width="6.45" height="7.06" fill="#e5b7a6"/>
<rect x="484.26" y="251.62" width="6.45" height="7.06" fill="#abc9ec"/>
<rect x="490.21" y="251.62" width="5.95" height="7.06" fill="#e5b7a6"/>
<rect x="502.1" y="251.62" width="6.45" height="6.56" fill="#f7c5ae"/>
<rect x="508.04" y="251.62" width="5.95" height="6.56" fill="#bfd4ee"/>
<rect x="412.93" y="258.18" width="6.45" height="7.06" fill="#e5b7a6"/>
<rect x="418.87" y="258.18" width="6.45" height="7.06" fill="#abc9ec"/>
<rect x="424.81" y="258.18" width="6.45" height="7.06" fill="#e3a487"/>
<rect x="430.76" y="258.18" width="6.45" height="7.06" fill="#e39a63"/>
<rect x="436.7" y="258.18" width="6.45" height="7.06" fill="#d08553"/>
<rect x="442.65" y="258.18" width="6.45" height="7.06" fill="#d08553"/>
<rect x="448.6" y="258.18" width="6.45" height="7.06" fill="#e3a487"/>
<rect x="454.54" y="258.18" width="6.45" height="7.06" fill="#e3a487"/>
<rect x="460.49" y="258.18" width="6.45" height="7.06" fill="#e5b7a6"/>
<rect x="466.43" y="258.18" width="6.45" height="6.56" fill="#e5b7a6"/>
<rect x="472.38" y="258.18" width="6.45" height="7.06" fill="#e5b7a6"/>
<rect x="478.32" y="258.18" width="6.45" height="7.06" fill="#e5b7a6"/>
<rect x="484.26" y="258.18" width="6.45" height="7.06" fill="#e3a487"/>
<rect x="490.21" y="258.18" width="6.45" height="7.06" fill="#e5b7a6"/>
<rect x="496.15" y="258.18" width="5.95" height="6.56" fill="#f7c5ae"/>
<rect x="406.98" y="264.74" width="6.45" height="7.06" fill="#bfd4ee"/>
<rect x="412.93" y="264.74" width="6.45" height="7.06" fill="#bfd4ee"/>
<rect x="418.87" y="264.74" width="6.45" height="7.06" fill="#e5b7a6"/>
<rect x="424.81" y="264.74" width="6.45" height="7.06" fill="#e5b7a6"/>
<rect x="430.76" y="264.74" width="6.45" height="7.06" fill="#e5b7a6"/>
<rect x="436.7" y="264.74" width="6.45" height="7.06" fill="#e5b7a6"/>
<rect x="442.65" y="264.74" width="6.45" height="7.06" fill="#abc9ec"/>
<rect x="448.6" y="264.74" width="6.45" height="7.06" fill="#e5b7a6"/>
<rect x="454.54" y="264.74" width="6.45" height="7.06" fill="#e5b7a6"/>
<rect x="460.49" y="264.74" width="5.95" height="7.06" fill="#bfd4ee"/>
<rect x="472.38" y="264.74" width="6.45" height="7.06" fill="#e5b7a6"/>
<rect x="478.32" y="264.74" width="6.45" height="7.06" fill="#bfd4ee"/>
<rect x="484.26" y="264.74" width="6.45" height="7.06" fill="#bfd4ee"/>
<rect x="490.21" y="264.74" width="5.95" height="6.56" fill="#bfd4ee"/>
<rect x="513.99" y="264.74" width="5.95" height="6.56" fill="#f7c5ae"/>
<rect x="406.98" y="271.3" width="6.45" height="7.06" fill="#bfd4ee"/>
<rect x="412.93" y="271.3" width="6.45" height="7.06" fill="#bfd4ee"/>
<rect x="418.87" y="271.3" width="6.45" height="7.06" fill="#bfd4ee"/>
<rect x="424.81" y="271.3" width="6.45" height="7.06" fill="#e5b7a6"/>
<rect x="430.76" y="271.3" width="6.45" height="7.06" fill="#e5b7a6"/>
<rect x="436.7" y="271.3" width="6.45" height="7.06" fill="#e5b7a6"/>
<rect x="442.65" y="271.3" width="6.45" height="7.06" fill="#abc9ec"/>
<rect x="448.6" y="271.3" width="6.45" height="7.06" fill="#f7c5ae"/>
<rect x="454.54" y="271.3" width="6.45" height="7.06" fill="#e5b7a6"/>
<rect x="460.49" y="271.3" width="5.95" height="7.06" fill="#e5b7a6"/>
<rect x="472.38" y="271.3" width="6.45" height="6.56" fill="#e5b7a6"/>
<rect x="478.32" y="271.3" width="6.45" height="6.56" fill="#e5b7a6"/>
<rect x="484.26" y="271.3" width="5.95" height="6.56" fill="#bfd4ee"/>
<rect x="406.98" y="277.86" width="6.45" height="7.06" fill="#abc9ec"/>
<rect x="412.93" y="277.86" width="6.45" height="7.06" fill="#bfd4ee"/>
<rect x="418.87" y="277.86" width="6.45" height="7.06" fill="#bfd4ee"/>
<rect x="424.81" y="277.86" width="6.45" height="7.06" fill="#e5b7a6"/>
<rect x="430.76" y="277.86" width="6.45" height="7.06" fill="#e5b7a6"/>
<rect x="436.7" y="277.86" width="6.45" height="7.06" fill="#e5b7a6"/>
<rect x="442.65" y="277.86" width="6.45" height="6.56" fill="#f7c5ae"/>
<rect x="448.6" y="277.86" width="6.45" height="6.56" fill="#e5b7a6"/>
<rect x="454.54" y="277.86" width="6.45" height="6.56" fill="#e5b7a6"/>
<rect x="460.49" y="277.86" width="6.45" height="6.56" fill="#bfd4ee"/>
<rect x="466.43" y="277.86" width="5.95" height="6.56" fill="#f7c5ae"/>
<rect x="401.03" y="284.41" width="6.45" height="7.06" fill="#bfd4ee"/>
<rect x="406.98" y="284.41" width="6.45" height="7.06" fill="#bfd4ee"/>
<rect x="412.93" y="284.41" width="6.45" height="6.56" fill="#abc9ec"/>
<rect x="418.87" y="284.41" width="6.45" height="7.06" fill="#e5b7a6"/>
<rect x="424.81" y="284.41" width="6.45" height="7.06" fill="#e5b7a6"/>
<rect x="430.76" y="284.41" width="6.45" height="6.56" fill="#e5b7a6"/>
<rect x="436.7" y="284.41" width="5.95" height="6.56" fill="#e5b7a6"/>
<rect x="389.14" y="290.97" width="6.45" height="6.56" fill="#bfd4ee"/>
<rect x="395.09" y="290.97" width="6.45" height="6.56" fill="#bfd4ee"/>
<rect x="401.03" y="290.97" width="6.45" height="7.06" fill="#bfd4ee"/>
<rect x="406.98" y="290.97" width="5.95" height="7.06" fill="#bfd4ee"/>
<rect x="418.87" y="290.97" width="6.45" height="6.56" fill="#bfd4ee"/>
<rect x="424.81" y="290.97" width="5.95" height="7.06" fill="#bfd4ee"/>
<rect x="401.03" y="297.53" width="6.45" height="6.56" fill="#abc9ec"/>
<rect x="406.98" y="297.53" width="6.45" height="7.06" fill="#bfd4ee"/>
<rect x="412.93" y="297.53" width="5.95" height="7.06" fill="#bfd4ee"/>
<rect x="424.81" y="297.53" width="5.95" height="7.06" fill="#bfd4ee"/>
<rect x="383.2" y="304.09" width="6.45" height="6.56" fill="#bfd4ee"/>
<rect x="389.14" y="304.09" width="6.45" height="7.06" fill="#bfd4ee"/>
<rect x="395.09" y="304.09" width="5.95" height="6.56" fill="#bfd4ee"/>
<rect x="406.98" y="304.09" width="6.45" height="6.56" fill="#abc9ec"/>
<rect x="412.93" y="304.09" width="6.45" height="7.06" fill="#bfd4ee"/>
<rect x="418.87" y="304.09" width="6.45" height="7.06" fill="#bfd4ee"/>
<rect x="424.81" y="304.09" width="5.95" height="6.56" fill="#bfd4ee"/>
<rect x="389.14" y="310.65" width="5.95" height="6.56" fill="#bfd4ee"/>
<rect x="412.93" y="310.65" width="6.45" height="6.56" fill="#bfd4ee"/>
<rect x="418.87" y="310.65" width="5.95" height="6.56" fill="#bfd4ee"/>
<line x1="371.4" y1="52.4" x2="371.4" y2="317.85" stroke="#555555" stroke-width="0.9"/>
<line x1="370.95" y1="317.4" x2="632.9" y2="317.4" stroke="#555555" stroke-width="0.9"/>
<line x1="368.8" y1="317.6" x2="371.4" y2="317.6" stroke="#555555" stroke-width="0.9"/>
<line x1="368.8" y1="279.81" x2="371.4" y2="279.81" stroke="#555555" stroke-width="0.9"/>
<line x1="368.8" y1="242.03" x2="371.4" y2="242.03" stroke="#555555" stroke-width="0.9"/>
<line x1="368.8" y1="204.24" x2="371.4" y2="204.24" stroke="#555555" stroke-width="0.9"/>
<line x1="368.8" y1="166.46" x2="371.4" y2="166.46" stroke="#555555" stroke-width="0.9"/>
<line x1="368.8" y1="128.67" x2="371.4" y2="128.67" stroke="#555555" stroke-width="0.9"/>
<line x1="368.8" y1="90.88" x2="371.4" y2="90.88" stroke="#555555" stroke-width="0.9"/>
<line x1="368.8" y1="53.1" x2="371.4" y2="53.1" stroke="#555555" stroke-width="0.9"/>
<line x1="396.4" y1="317.4" x2="396.4" y2="320.9" stroke="#555555" stroke-width="0.9"/>
<text x="398.9" y="330.5" font-size="10" text-anchor="middle" fill="#262626">0.60</text>
<line x1="448.98" y1="317.4" x2="448.98" y2="320.9" stroke="#555555" stroke-width="0.9"/>
<text x="446.4" y="330.5" font-size="10" text-anchor="middle" fill="#262626">0.65</text>
<line x1="501.56" y1="317.4" x2="501.56" y2="320.9" stroke="#555555" stroke-width="0.9"/>
<text x="498.8" y="330.5" font-size="10" text-anchor="middle" fill="#262626">0.70</text>
<line x1="554.14" y1="317.4" x2="554.14" y2="320.9" stroke="#555555" stroke-width="0.9"/>
<text x="552" y="330.5" font-size="10" text-anchor="middle" fill="#262626">0.75</text>
<line x1="606.72" y1="317.4" x2="606.72" y2="320.9" stroke="#555555" stroke-width="0.9"/>
<text x="605.1" y="330.5" font-size="10" text-anchor="middle" fill="#262626">0.80</text>
<rect x="383.5" y="42" width="9.52" height="1.5" fill="#9c929e"/>
<rect x="383.5" y="41.9" width="9.52" height="0.1" fill="#90b1dc"/>
<rect x="393.02" y="42.6" width="9.52" height="0.9" fill="#9c929e"/>
<rect x="393.02" y="40.8" width="9.52" height="1.8" fill="#90b1dc"/>
<rect x="402.54" y="38.2" width="9.52" height="5.3" fill="#90b1dc"/>
<rect x="412.06" y="37.4" width="9.52" height="6.1" fill="#90b1dc"/>
<rect x="421.58" y="35" width="9.52" height="8.5" fill="#9c929e"/>
<rect x="421.58" y="33.2" width="9.52" height="1.8" fill="#90b1dc"/>
<rect x="431.1" y="28.2" width="9.52" height="15.3" fill="#9c929e"/>
<rect x="431.1" y="15.3" width="9.52" height="12.9" fill="#fdba80"/>
<rect x="440.62" y="26.3" width="9.52" height="17.2" fill="#9c929e"/>
<rect x="440.62" y="3.3" width="9.52" height="23" fill="#fdba80"/>
<rect x="450.14" y="26.3" width="9.52" height="17.2" fill="#9c929e"/>
<rect x="450.14" y="0.4" width="9.52" height="25.9" fill="#fdba80"/>
<rect x="459.66" y="26.3" width="9.52" height="17.2" fill="#9c929e"/>
<rect x="459.66" y="9.3" width="9.52" height="17" fill="#fdba80"/>
<rect x="469.18" y="24.5" width="9.52" height="19" fill="#9c929e"/>
<rect x="469.18" y="17" width="9.52" height="7.5" fill="#fdba80"/>
<rect x="478.7" y="32.4" width="9.52" height="11.1" fill="#9c929e"/>
<rect x="478.7" y="27.2" width="9.52" height="5.2" fill="#90b1dc"/>
<rect x="488.22" y="34.5" width="9.52" height="9" fill="#9c929e"/>
<rect x="488.22" y="25.1" width="9.52" height="9.4" fill="#90b1dc"/>
<rect x="497.74" y="37.3" width="9.52" height="6.2" fill="#9c929e"/>
<rect x="497.74" y="32.1" width="9.52" height="5.2" fill="#90b1dc"/>
<rect x="507.26" y="40.6" width="9.52" height="2.9" fill="#9c929e"/>
<rect x="507.26" y="31.2" width="9.52" height="9.4" fill="#90b1dc"/>
<rect x="516.78" y="42.6" width="9.52" height="0.9" fill="#9c929e"/>
<rect x="516.78" y="32.9" width="9.52" height="9.7" fill="#90b1dc"/>
<rect x="526.3" y="34.2" width="9.52" height="9.3" fill="#90b1dc"/>
<rect x="535.82" y="36.3" width="9.52" height="7.2" fill="#90b1dc"/>
<rect x="545.34" y="37.1" width="9.52" height="6.4" fill="#90b1dc"/>
<rect x="554.86" y="40.3" width="9.52" height="3.2" fill="#90b1dc"/>
<rect x="564.38" y="40.6" width="9.52" height="2.9" fill="#90b1dc"/>
<rect x="573.9" y="43" width="9.52" height="0.5" fill="#9c929e"/>
<rect x="573.9" y="42" width="9.52" height="1" fill="#90b1dc"/>
<rect x="583.42" y="42.5" width="9.52" height="1" fill="#90b1dc"/>
<rect x="592.94" y="43.2" width="9.52" height="0.3" fill="#90b1dc"/>
<rect x="602.46" y="42.5" width="9.52" height="1" fill="#90b1dc"/>
<rect x="611.98" y="43.2" width="9.52" height="0.3" fill="#90b1dc"/>
<rect x="383.5" y="42" width="9.52" height="1.5" fill="none" stroke="#3a3a3a" stroke-width="0.8"/>
<rect x="383.5" y="41.9" width="9.52" height="1.6" fill="none" stroke="#3a3a3a" stroke-width="0.8"/>
<rect x="393.02" y="42.6" width="9.52" height="0.9" fill="none" stroke="#3a3a3a" stroke-width="0.8"/>
<rect x="393.02" y="40.8" width="9.52" height="2.7" fill="none" stroke="#3a3a3a" stroke-width="0.8"/>
<rect x="402.54" y="38.2" width="9.52" height="5.3" fill="none" stroke="#3a3a3a" stroke-width="0.8"/>
<rect x="412.06" y="37.4" width="9.52" height="6.1" fill="none" stroke="#3a3a3a" stroke-width="0.8"/>
<rect x="421.58" y="35" width="9.52" height="8.5" fill="none" stroke="#3a3a3a" stroke-width="0.8"/>
<rect x="421.58" y="33.2" width="9.52" height="10.3" fill="none" stroke="#3a3a3a" stroke-width="0.8"/>
<rect x="431.1" y="15.3" width="9.52" height="28.2" fill="none" stroke="#3a3a3a" stroke-width="0.8"/>
<rect x="431.1" y="28.2" width="9.52" height="15.3" fill="none" stroke="#3a3a3a" stroke-width="0.8"/>
<rect x="440.62" y="3.3" width="9.52" height="40.2" fill="none" stroke="#3a3a3a" stroke-width="0.8"/>
<rect x="440.62" y="26.3" width="9.52" height="17.2" fill="none" stroke="#3a3a3a" stroke-width="0.8"/>
<rect x="450.14" y="0.4" width="9.52" height="43.1" fill="none" stroke="#3a3a3a" stroke-width="0.8"/>
<rect x="450.14" y="26.3" width="9.52" height="17.2" fill="none" stroke="#3a3a3a" stroke-width="0.8"/>
<rect x="459.66" y="9.3" width="9.52" height="34.2" fill="none" stroke="#3a3a3a" stroke-width="0.8"/>
<rect x="459.66" y="26.3" width="9.52" height="17.2" fill="none" stroke="#3a3a3a" stroke-width="0.8"/>
<rect x="469.18" y="17" width="9.52" height="26.5" fill="none" stroke="#3a3a3a" stroke-width="0.8"/>
<rect x="469.18" y="24.5" width="9.52" height="19" fill="none" stroke="#3a3a3a" stroke-width="0.8"/>
<rect x="478.7" y="32.4" width="9.52" height="11.1" fill="none" stroke="#3a3a3a" stroke-width="0.8"/>
<rect x="478.7" y="27.2" width="9.52" height="16.3" fill="none" stroke="#3a3a3a" stroke-width="0.8"/>
<rect x="488.22" y="34.5" width="9.52" height="9" fill="none" stroke="#3a3a3a" stroke-width="0.8"/>
<rect x="488.22" y="25.1" width="9.52" height="18.4" fill="none" stroke="#3a3a3a" stroke-width="0.8"/>
<rect x="497.74" y="37.3" width="9.52" height="6.2" fill="none" stroke="#3a3a3a" stroke-width="0.8"/>
<rect x="497.74" y="32.1" width="9.52" height="11.4" fill="none" stroke="#3a3a3a" stroke-width="0.8"/>
<rect x="507.26" y="40.6" width="9.52" height="2.9" fill="none" stroke="#3a3a3a" stroke-width="0.8"/>
<rect x="507.26" y="31.2" width="9.52" height="12.3" fill="none" stroke="#3a3a3a" stroke-width="0.8"/>
<rect x="516.78" y="42.6" width="9.52" height="0.9" fill="none" stroke="#3a3a3a" stroke-width="0.8"/>
<rect x="516.78" y="32.9" width="9.52" height="10.6" fill="none" stroke="#3a3a3a" stroke-width="0.8"/>
<rect x="526.3" y="34.2" width="9.52" height="9.3" fill="none" stroke="#3a3a3a" stroke-width="0.8"/>
<rect x="535.82" y="36.3" width="9.52" height="7.2" fill="none" stroke="#3a3a3a" stroke-width="0.8"/>
<rect x="545.34" y="37.1" width="9.52" height="6.4" fill="none" stroke="#3a3a3a" stroke-width="0.8"/>
<rect x="554.86" y="40.3" width="9.52" height="3.2" fill="none" stroke="#3a3a3a" stroke-width="0.8"/>
<rect x="564.38" y="40.6" width="9.52" height="2.9" fill="none" stroke="#3a3a3a" stroke-width="0.8"/>
<rect x="573.9" y="43" width="9.52" height="0.5" fill="none" stroke="#3a3a3a" stroke-width="0.8"/>
<rect x="573.9" y="42" width="9.52" height="1.5" fill="none" stroke="#3a3a3a" stroke-width="0.8"/>
<rect x="583.42" y="42.5" width="9.52" height="1" fill="none" stroke="#3a3a3a" stroke-width="0.8"/>
<rect x="592.94" y="43.2" width="9.52" height="0.3" fill="none" stroke="#3a3a3a" stroke-width="0.8"/>
<rect x="602.46" y="42.5" width="9.52" height="1" fill="none" stroke="#3a3a3a" stroke-width="0.8"/>
<rect x="611.98" y="43.2" width="9.52" height="0.3" fill="none" stroke="#3a3a3a" stroke-width="0.8"/>
<line x1="370.95" y1="43.5" x2="632.9" y2="43.5" stroke="#555555" stroke-width="0.9"/>
<line x1="396.4" y1="43.5" x2="396.4" y2="46.6" stroke="#555555" stroke-width="0.9"/>
<line x1="448.98" y1="43.5" x2="448.98" y2="46.6" stroke="#555555" stroke-width="0.9"/>
<line x1="501.56" y1="43.5" x2="501.56" y2="46.6" stroke="#555555" stroke-width="0.9"/>
<line x1="554.14" y1="43.5" x2="554.14" y2="46.6" stroke="#555555" stroke-width="0.9"/>
<line x1="606.72" y1="43.5" x2="606.72" y2="46.6" stroke="#555555" stroke-width="0.9"/>
<rect x="641.5" y="68.6" width="1" height="10.47" fill="#90b1dc"/>
<rect x="641.5" y="79.07" width="1" height="10.47" fill="#9c929e"/>
<rect x="642.5" y="79.07" width="0.5" height="10.47" fill="#90b1dc"/>
<rect x="641.5" y="89.55" width="1" height="10.47" fill="#90b1dc"/>
<rect x="641.5" y="100.02" width="2.1" height="10.47" fill="#90b1dc"/>
<rect x="641.5" y="110.5" width="2.8" height="10.47" fill="#90b1dc"/>
<rect x="641.5" y="120.97" width="2.3" height="10.47" fill="#90b1dc"/>
<rect x="641.5" y="131.44" width="4.1" height="10.47" fill="#90b1dc"/>
<rect x="641.5" y="141.92" width="5" height="10.47" fill="#90b1dc"/>
<rect x="641.5" y="152.39" width="6.1" height="10.47" fill="#90b1dc"/>
<rect x="641.5" y="162.87" width="9.3" height="10.47" fill="#90b1dc"/>
<rect x="641.5" y="173.34" width="10.2" height="10.47" fill="#90b1dc"/>
<rect x="641.5" y="183.81" width="1.5" height="10.47" fill="#9c929e"/>
<rect x="643" y="183.81" width="12.6" height="10.47" fill="#90b1dc"/>
<rect x="641.5" y="194.29" width="9.8" height="10.47" fill="#9c929e"/>
<rect x="651.3" y="194.29" width="9.3" height="10.47" fill="#90b1dc"/>
<rect x="641.5" y="204.76" width="16.1" height="10.47" fill="#9c929e"/>
<rect x="657.6" y="204.76" width="5.9" height="10.47" fill="#90b1dc"/>
<rect x="641.5" y="215.24" width="18.5" height="10.47" fill="#9c929e"/>
<rect x="660" y="215.24" width="11.4" height="10.47" fill="#fdba80"/>
<rect x="641.5" y="225.71" width="25.1" height="10.47" fill="#9c929e"/>
<rect x="666.6" y="225.71" width="11" height="10.47" fill="#fdba80"/>
<rect x="641.5" y="236.18" width="17.2" height="10.47" fill="#9c929e"/>
<rect x="658.7" y="236.18" width="25.7" height="10.47" fill="#fdba80"/>
<rect x="641.5" y="246.66" width="15.7" height="10.47" fill="#9c929e"/>
<rect x="657.2" y="246.66" width="23.1" height="10.47" fill="#fdba80"/>
<rect x="641.5" y="257.13" width="15.2" height="10.47" fill="#9c929e"/>
<rect x="656.7" y="257.13" width="8.6" height="10.47" fill="#fdba80"/>
<rect x="641.5" y="267.61" width="10.2" height="10.47" fill="#9c929e"/>
<rect x="651.7" y="267.61" width="2.4" height="10.47" fill="#90b1dc"/>
<rect x="641.5" y="278.08" width="5.7" height="10.47" fill="#9c929e"/>
<rect x="647.2" y="278.08" width="6.2" height="10.47" fill="#90b1dc"/>
<rect x="641.5" y="288.55" width="4.1" height="10.47" fill="#90b1dc"/>
<rect x="641.5" y="299.03" width="4.1" height="10.47" fill="#90b1dc"/>
<rect x="641.5" y="309.5" width="2.8" height="10.47" fill="#90b1dc"/>
<rect x="641.5" y="68.6" width="1" height="10.47" fill="none" stroke="#3a3a3a" stroke-width="0.8"/>
<rect x="641.5" y="79.07" width="1" height="10.47" fill="none" stroke="#3a3a3a" stroke-width="0.8"/>
<rect x="641.5" y="79.07" width="1.5" height="10.47" fill="none" stroke="#3a3a3a" stroke-width="0.8"/>
<rect x="641.5" y="89.55" width="1" height="10.47" fill="none" stroke="#3a3a3a" stroke-width="0.8"/>
<rect x="641.5" y="100.02" width="2.1" height="10.47" fill="none" stroke="#3a3a3a" stroke-width="0.8"/>
<rect x="641.5" y="110.5" width="2.8" height="10.47" fill="none" stroke="#3a3a3a" stroke-width="0.8"/>
<rect x="641.5" y="120.97" width="2.3" height="10.47" fill="none" stroke="#3a3a3a" stroke-width="0.8"/>
<rect x="641.5" y="131.44" width="4.1" height="10.47" fill="none" stroke="#3a3a3a" stroke-width="0.8"/>
<rect x="641.5" y="141.92" width="5" height="10.47" fill="none" stroke="#3a3a3a" stroke-width="0.8"/>
<rect x="641.5" y="152.39" width="6.1" height="10.47" fill="none" stroke="#3a3a3a" stroke-width="0.8"/>
<rect x="641.5" y="162.87" width="9.3" height="10.47" fill="none" stroke="#3a3a3a" stroke-width="0.8"/>
<rect x="641.5" y="173.34" width="10.2" height="10.47" fill="none" stroke="#3a3a3a" stroke-width="0.8"/>
<rect x="641.5" y="183.81" width="1.5" height="10.47" fill="none" stroke="#3a3a3a" stroke-width="0.8"/>
<rect x="641.5" y="183.81" width="14.1" height="10.47" fill="none" stroke="#3a3a3a" stroke-width="0.8"/>
<rect x="641.5" y="194.29" width="9.8" height="10.47" fill="none" stroke="#3a3a3a" stroke-width="0.8"/>
<rect x="641.5" y="194.29" width="19.1" height="10.47" fill="none" stroke="#3a3a3a" stroke-width="0.8"/>
<rect x="641.5" y="204.76" width="16.1" height="10.47" fill="none" stroke="#3a3a3a" stroke-width="0.8"/>
<rect x="641.5" y="204.76" width="22" height="10.47" fill="none" stroke="#3a3a3a" stroke-width="0.8"/>
<rect x="641.5" y="215.24" width="29.9" height="10.47" fill="none" stroke="#3a3a3a" stroke-width="0.8"/>
<rect x="641.5" y="215.24" width="18.5" height="10.47" fill="none" stroke="#3a3a3a" stroke-width="0.8"/>
<rect x="641.5" y="225.71" width="36.1" height="10.47" fill="none" stroke="#3a3a3a" stroke-width="0.8"/>
<rect x="641.5" y="225.71" width="25.1" height="10.47" fill="none" stroke="#3a3a3a" stroke-width="0.8"/>
<rect x="641.5" y="236.18" width="42.9" height="10.47" fill="none" stroke="#3a3a3a" stroke-width="0.8"/>
<rect x="641.5" y="236.18" width="17.2" height="10.47" fill="none" stroke="#3a3a3a" stroke-width="0.8"/>
<rect x="641.5" y="246.66" width="38.8" height="10.47" fill="none" stroke="#3a3a3a" stroke-width="0.8"/>
<rect x="641.5" y="246.66" width="15.7" height="10.47" fill="none" stroke="#3a3a3a" stroke-width="0.8"/>
<rect x="641.5" y="257.13" width="23.8" height="10.47" fill="none" stroke="#3a3a3a" stroke-width="0.8"/>
<rect x="641.5" y="257.13" width="15.2" height="10.47" fill="none" stroke="#3a3a3a" stroke-width="0.8"/>
<rect x="641.5" y="267.61" width="10.2" height="10.47" fill="none" stroke="#3a3a3a" stroke-width="0.8"/>
<rect x="641.5" y="267.61" width="12.6" height="10.47" fill="none" stroke="#3a3a3a" stroke-width="0.8"/>
<rect x="641.5" y="278.08" width="5.7" height="10.47" fill="none" stroke="#3a3a3a" stroke-width="0.8"/>
<rect x="641.5" y="278.08" width="11.9" height="10.47" fill="none" stroke="#3a3a3a" stroke-width="0.8"/>
<rect x="641.5" y="288.55" width="4.1" height="10.47" fill="none" stroke="#3a3a3a" stroke-width="0.8"/>
<rect x="641.5" y="299.03" width="4.1" height="10.47" fill="none" stroke="#3a3a3a" stroke-width="0.8"/>
<rect x="641.5" y="309.5" width="2.8" height="10.47" fill="none" stroke="#3a3a3a" stroke-width="0.8"/>
<line x1="641.5" y1="52.4" x2="641.5" y2="317.85" stroke="#555555" stroke-width="0.9"/>
<line x1="638.9" y1="317.6" x2="641.5" y2="317.6" stroke="#555555" stroke-width="0.9"/>
<line x1="638.9" y1="279.81" x2="641.5" y2="279.81" stroke="#555555" stroke-width="0.9"/>
<line x1="638.9" y1="242.03" x2="641.5" y2="242.03" stroke="#555555" stroke-width="0.9"/>
<line x1="638.9" y1="204.24" x2="641.5" y2="204.24" stroke="#555555" stroke-width="0.9"/>
<line x1="638.9" y1="166.46" x2="641.5" y2="166.46" stroke="#555555" stroke-width="0.9"/>
<line x1="638.9" y1="128.67" x2="641.5" y2="128.67" stroke="#555555" stroke-width="0.9"/>
<line x1="638.9" y1="90.88" x2="641.5" y2="90.88" stroke="#555555" stroke-width="0.9"/>
<line x1="638.9" y1="53.1" x2="641.5" y2="53.1" stroke="#555555" stroke-width="0.9"/>
<rect x="392.1" y="66.4" width="17.2" height="5.7" fill="#1f77b6"/>
<rect x="392.1" y="81.3" width="17.2" height="5.7" fill="#f6821f"/>
<text x="415.1" y="72.9" font-size="10" text-anchor="start" fill="#262626">MatBERT</text>
<text x="415.1" y="87.8" font-size="10" text-anchor="start" fill="#262626">Fingerprint (Baseline)</text>
<text x="632.6" y="302.9" font-size="11.74" text-anchor="end" fill="#262626">Structure embedding</text>
<text x="508.5" y="346.3" font-size="10" text-anchor="middle" fill="#262626">nDCG</text>
<text x="0" y="0" font-size="10" text-anchor="middle" fill="#262626" transform="translate(8.1 182.3) rotate(-90)">Precision@15%</text>
</svg>
</body></html>
